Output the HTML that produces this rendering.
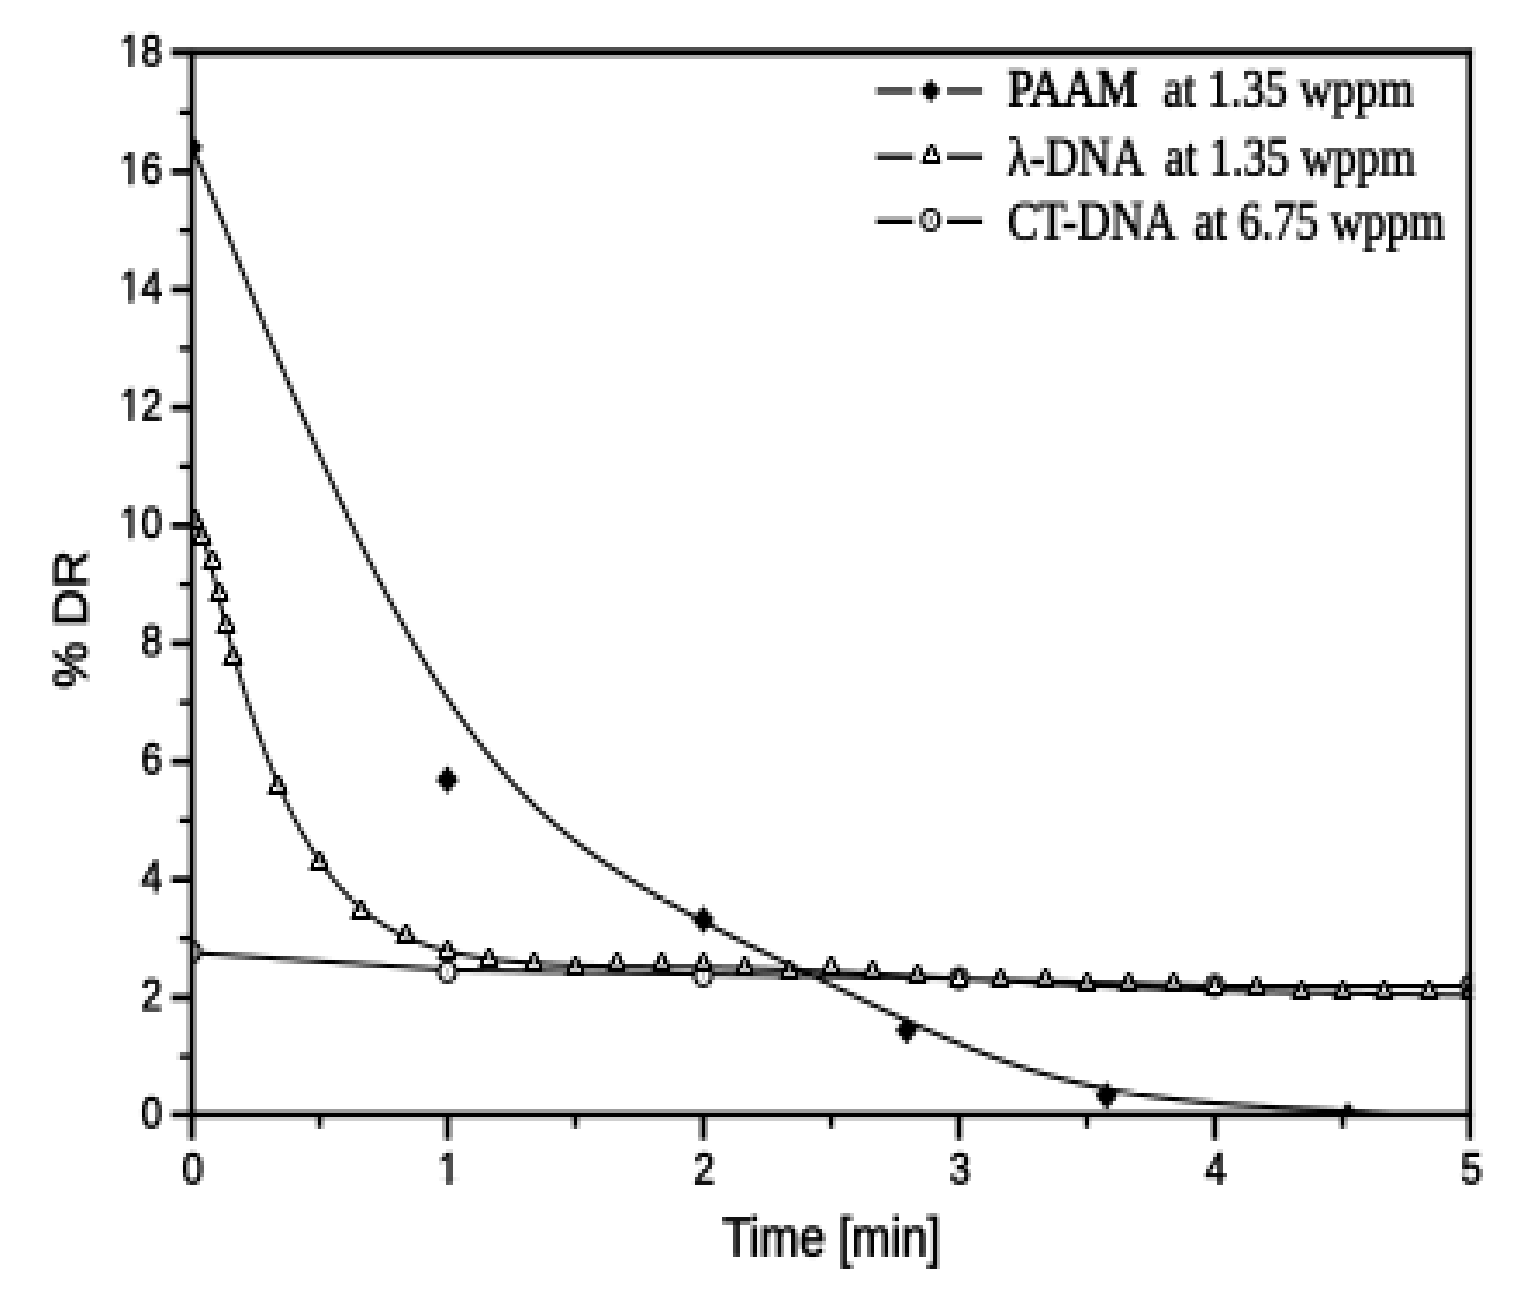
<!DOCTYPE html>
<html lang="en"><head><meta charset="utf-8"><title>% DR vs Time</title>
<style>html,body{margin:0;padding:0;background:#fff}body{width:1513px;height:1308px;overflow:hidden}svg{display:block}</style></head>
<body>
<svg width="1513" height="1308" viewBox="0 0 1513 1308">
<rect width="1513" height="1308" fill="#fff"/>
<defs><clipPath id="plot"><rect x="190" y="48" width="1283" height="1069"/></clipPath>
<mask id="mc3" maskUnits="userSpaceOnUse" x="0" y="0" width="1513" height="1308"><path shape-rendering="crispEdges" fill="#fff" d="M1,0h1v1308h-1zM8,0h1v1308h-1zM15,0h1v1308h-1zM22,0h1v1308h-1zM25,0h1v1308h-1zM32,0h1v1308h-1zM39,0h1v1308h-1zM46,0h1v1308h-1zM53,0h1v1308h-1zM60,0h1v1308h-1zM63,0h1v1308h-1zM70,0h1v1308h-1zM77,0h1v1308h-1zM84,0h1v1308h-1zM91,0h1v1308h-1zM98,0h1v1308h-1zM101,0h1v1308h-1zM108,0h1v1308h-1zM115,0h1v1308h-1zM122,0h1v1308h-1zM129,0h1v1308h-1zM136,0h1v1308h-1zM143,0h1v1308h-1zM146,0h1v1308h-1zM153,0h1v1308h-1zM160,0h1v1308h-1zM167,0h1v1308h-1zM174,0h1v1308h-1zM181,0h1v1308h-1zM184,0h1v1308h-1zM191,0h1v1308h-1zM198,0h1v1308h-1zM205,0h1v1308h-1zM212,0h1v1308h-1zM219,0h1v1308h-1zM222,0h1v1308h-1zM229,0h1v1308h-1zM236,0h1v1308h-1zM243,0h1v1308h-1zM250,0h1v1308h-1zM257,0h1v1308h-1zM260,0h1v1308h-1zM267,0h1v1308h-1zM274,0h1v1308h-1zM281,0h1v1308h-1zM288,0h1v1308h-1zM295,0h1v1308h-1zM302,0h1v1308h-1zM305,0h1v1308h-1zM312,0h1v1308h-1zM319,0h1v1308h-1zM326,0h1v1308h-1zM333,0h1v1308h-1zM340,0h1v1308h-1zM343,0h1v1308h-1zM350,0h1v1308h-1zM357,0h1v1308h-1zM364,0h1v1308h-1zM371,0h1v1308h-1zM378,0h1v1308h-1zM381,0h1v1308h-1zM388,0h1v1308h-1zM395,0h1v1308h-1zM402,0h1v1308h-1zM409,0h1v1308h-1zM416,0h1v1308h-1zM423,0h1v1308h-1zM426,0h1v1308h-1zM433,0h1v1308h-1zM440,0h1v1308h-1zM447,0h1v1308h-1zM454,0h1v1308h-1zM461,0h1v1308h-1zM464,0h1v1308h-1zM471,0h1v1308h-1zM478,0h1v1308h-1zM485,0h1v1308h-1zM492,0h1v1308h-1zM499,0h1v1308h-1zM502,0h1v1308h-1zM509,0h1v1308h-1zM516,0h1v1308h-1zM523,0h1v1308h-1zM530,0h1v1308h-1zM537,0h1v1308h-1zM540,0h1v1308h-1zM547,0h1v1308h-1zM554,0h1v1308h-1zM561,0h1v1308h-1zM568,0h1v1308h-1zM575,0h1v1308h-1zM582,0h1v1308h-1zM585,0h1v1308h-1zM592,0h1v1308h-1zM599,0h1v1308h-1zM606,0h1v1308h-1zM613,0h1v1308h-1zM620,0h1v1308h-1zM623,0h1v1308h-1zM630,0h1v1308h-1zM637,0h1v1308h-1zM644,0h1v1308h-1zM651,0h1v1308h-1zM658,0h1v1308h-1zM661,0h1v1308h-1zM668,0h1v1308h-1zM675,0h1v1308h-1zM682,0h1v1308h-1zM689,0h1v1308h-1zM696,0h1v1308h-1zM703,0h1v1308h-1zM706,0h1v1308h-1zM713,0h1v1308h-1zM720,0h1v1308h-1zM727,0h1v1308h-1zM734,0h1v1308h-1zM741,0h1v1308h-1zM744,0h1v1308h-1zM751,0h1v1308h-1zM758,0h1v1308h-1zM765,0h1v1308h-1zM772,0h1v1308h-1zM779,0h1v1308h-1zM782,0h1v1308h-1zM789,0h1v1308h-1zM796,0h1v1308h-1zM803,0h1v1308h-1zM810,0h1v1308h-1zM817,0h1v1308h-1zM820,0h1v1308h-1zM827,0h1v1308h-1zM834,0h1v1308h-1zM841,0h1v1308h-1zM848,0h1v1308h-1zM855,0h1v1308h-1zM862,0h1v1308h-1zM865,0h1v1308h-1zM872,0h1v1308h-1zM879,0h1v1308h-1zM886,0h1v1308h-1zM893,0h1v1308h-1zM900,0h1v1308h-1zM903,0h1v1308h-1zM910,0h1v1308h-1zM917,0h1v1308h-1zM924,0h1v1308h-1zM931,0h1v1308h-1zM938,0h1v1308h-1zM941,0h1v1308h-1zM948,0h1v1308h-1zM955,0h1v1308h-1zM962,0h1v1308h-1zM969,0h1v1308h-1zM976,0h1v1308h-1zM983,0h1v1308h-1zM986,0h1v1308h-1zM993,0h1v1308h-1zM1000,0h1v1308h-1zM1007,0h1v1308h-1zM1014,0h1v1308h-1zM1021,0h1v1308h-1zM1024,0h1v1308h-1zM1031,0h1v1308h-1zM1038,0h1v1308h-1zM1045,0h1v1308h-1zM1052,0h1v1308h-1zM1059,0h1v1308h-1zM1062,0h1v1308h-1zM1069,0h1v1308h-1zM1076,0h1v1308h-1zM1083,0h1v1308h-1zM1090,0h1v1308h-1zM1097,0h1v1308h-1zM1100,0h1v1308h-1zM1107,0h1v1308h-1zM1114,0h1v1308h-1zM1121,0h1v1308h-1zM1128,0h1v1308h-1zM1135,0h1v1308h-1zM1142,0h1v1308h-1zM1145,0h1v1308h-1zM1152,0h1v1308h-1zM1159,0h1v1308h-1zM1166,0h1v1308h-1zM1173,0h1v1308h-1zM1180,0h1v1308h-1zM1183,0h1v1308h-1zM1190,0h1v1308h-1zM1197,0h1v1308h-1zM1204,0h1v1308h-1zM1211,0h1v1308h-1zM1218,0h1v1308h-1zM1221,0h1v1308h-1zM1228,0h1v1308h-1zM1235,0h1v1308h-1zM1242,0h1v1308h-1zM1249,0h1v1308h-1zM1256,0h1v1308h-1zM1263,0h1v1308h-1zM1266,0h1v1308h-1zM1273,0h1v1308h-1zM1280,0h1v1308h-1zM1287,0h1v1308h-1zM1294,0h1v1308h-1zM1301,0h1v1308h-1zM1304,0h1v1308h-1zM1311,0h1v1308h-1zM1318,0h1v1308h-1zM1325,0h1v1308h-1zM1332,0h1v1308h-1zM1339,0h1v1308h-1zM1342,0h1v1308h-1zM1349,0h1v1308h-1zM1356,0h1v1308h-1zM1363,0h1v1308h-1zM1370,0h1v1308h-1zM1377,0h1v1308h-1zM1380,0h1v1308h-1zM1387,0h1v1308h-1zM1394,0h1v1308h-1zM1401,0h1v1308h-1zM1408,0h1v1308h-1zM1415,0h1v1308h-1zM1422,0h1v1308h-1zM1425,0h1v1308h-1zM1432,0h1v1308h-1zM1439,0h1v1308h-1zM1446,0h1v1308h-1zM1453,0h1v1308h-1zM1460,0h1v1308h-1zM1463,0h1v1308h-1zM1470,0h1v1308h-1zM1477,0h1v1308h-1zM1484,0h1v1308h-1zM1491,0h1v1308h-1zM1498,0h1v1308h-1zM1501,0h1v1308h-1zM1508,0h1v1308h-1z"/></mask>
<mask id="mc4" maskUnits="userSpaceOnUse" x="0" y="0" width="1513" height="1308"><path shape-rendering="crispEdges" fill="#fff" d="M4,0h1v1308h-1zM11,0h1v1308h-1zM18,0h1v1308h-1zM28,0h1v1308h-1zM35,0h1v1308h-1zM42,0h1v1308h-1zM49,0h1v1308h-1zM56,0h1v1308h-1zM66,0h1v1308h-1zM73,0h1v1308h-1zM80,0h1v1308h-1zM87,0h1v1308h-1zM94,0h1v1308h-1zM104,0h1v1308h-1zM111,0h1v1308h-1zM118,0h1v1308h-1zM125,0h1v1308h-1zM132,0h1v1308h-1zM139,0h1v1308h-1zM149,0h1v1308h-1zM156,0h1v1308h-1zM163,0h1v1308h-1zM170,0h1v1308h-1zM177,0h1v1308h-1zM187,0h1v1308h-1zM194,0h1v1308h-1zM201,0h1v1308h-1zM208,0h1v1308h-1zM215,0h1v1308h-1zM225,0h1v1308h-1zM232,0h1v1308h-1zM239,0h1v1308h-1zM246,0h1v1308h-1zM253,0h1v1308h-1zM263,0h1v1308h-1zM270,0h1v1308h-1zM277,0h1v1308h-1zM284,0h1v1308h-1zM291,0h1v1308h-1zM298,0h1v1308h-1zM308,0h1v1308h-1zM315,0h1v1308h-1zM322,0h1v1308h-1zM329,0h1v1308h-1zM336,0h1v1308h-1zM346,0h1v1308h-1zM353,0h1v1308h-1zM360,0h1v1308h-1zM367,0h1v1308h-1zM374,0h1v1308h-1zM384,0h1v1308h-1zM391,0h1v1308h-1zM398,0h1v1308h-1zM405,0h1v1308h-1zM412,0h1v1308h-1zM419,0h1v1308h-1zM429,0h1v1308h-1zM436,0h1v1308h-1zM443,0h1v1308h-1zM450,0h1v1308h-1zM457,0h1v1308h-1zM467,0h1v1308h-1zM474,0h1v1308h-1zM481,0h1v1308h-1zM488,0h1v1308h-1zM495,0h1v1308h-1zM505,0h1v1308h-1zM512,0h1v1308h-1zM519,0h1v1308h-1zM526,0h1v1308h-1zM533,0h1v1308h-1zM543,0h1v1308h-1zM550,0h1v1308h-1zM557,0h1v1308h-1zM564,0h1v1308h-1zM571,0h1v1308h-1zM578,0h1v1308h-1zM588,0h1v1308h-1zM595,0h1v1308h-1zM602,0h1v1308h-1zM609,0h1v1308h-1zM616,0h1v1308h-1zM626,0h1v1308h-1zM633,0h1v1308h-1zM640,0h1v1308h-1zM647,0h1v1308h-1zM654,0h1v1308h-1zM664,0h1v1308h-1zM671,0h1v1308h-1zM678,0h1v1308h-1zM685,0h1v1308h-1zM692,0h1v1308h-1zM699,0h1v1308h-1zM709,0h1v1308h-1zM716,0h1v1308h-1zM723,0h1v1308h-1zM730,0h1v1308h-1zM737,0h1v1308h-1zM747,0h1v1308h-1zM754,0h1v1308h-1zM761,0h1v1308h-1zM768,0h1v1308h-1zM775,0h1v1308h-1zM785,0h1v1308h-1zM792,0h1v1308h-1zM799,0h1v1308h-1zM806,0h1v1308h-1zM813,0h1v1308h-1zM823,0h1v1308h-1zM830,0h1v1308h-1zM837,0h1v1308h-1zM844,0h1v1308h-1zM851,0h1v1308h-1zM858,0h1v1308h-1zM868,0h1v1308h-1zM875,0h1v1308h-1zM882,0h1v1308h-1zM889,0h1v1308h-1zM896,0h1v1308h-1zM906,0h1v1308h-1zM913,0h1v1308h-1zM920,0h1v1308h-1zM927,0h1v1308h-1zM934,0h1v1308h-1zM944,0h1v1308h-1zM951,0h1v1308h-1zM958,0h1v1308h-1zM965,0h1v1308h-1zM972,0h1v1308h-1zM979,0h1v1308h-1zM989,0h1v1308h-1zM996,0h1v1308h-1zM1003,0h1v1308h-1zM1010,0h1v1308h-1zM1017,0h1v1308h-1zM1027,0h1v1308h-1zM1034,0h1v1308h-1zM1041,0h1v1308h-1zM1048,0h1v1308h-1zM1055,0h1v1308h-1zM1065,0h1v1308h-1zM1072,0h1v1308h-1zM1079,0h1v1308h-1zM1086,0h1v1308h-1zM1093,0h1v1308h-1zM1103,0h1v1308h-1zM1110,0h1v1308h-1zM1117,0h1v1308h-1zM1124,0h1v1308h-1zM1131,0h1v1308h-1zM1138,0h1v1308h-1zM1148,0h1v1308h-1zM1155,0h1v1308h-1zM1162,0h1v1308h-1zM1169,0h1v1308h-1zM1176,0h1v1308h-1zM1186,0h1v1308h-1zM1193,0h1v1308h-1zM1200,0h1v1308h-1zM1207,0h1v1308h-1zM1214,0h1v1308h-1zM1224,0h1v1308h-1zM1231,0h1v1308h-1zM1238,0h1v1308h-1zM1245,0h1v1308h-1zM1252,0h1v1308h-1zM1259,0h1v1308h-1zM1269,0h1v1308h-1zM1276,0h1v1308h-1zM1283,0h1v1308h-1zM1290,0h1v1308h-1zM1297,0h1v1308h-1zM1307,0h1v1308h-1zM1314,0h1v1308h-1zM1321,0h1v1308h-1zM1328,0h1v1308h-1zM1335,0h1v1308h-1zM1345,0h1v1308h-1zM1352,0h1v1308h-1zM1359,0h1v1308h-1zM1366,0h1v1308h-1zM1373,0h1v1308h-1zM1383,0h1v1308h-1zM1390,0h1v1308h-1zM1397,0h1v1308h-1zM1404,0h1v1308h-1zM1411,0h1v1308h-1zM1418,0h1v1308h-1zM1428,0h1v1308h-1zM1435,0h1v1308h-1zM1442,0h1v1308h-1zM1449,0h1v1308h-1zM1456,0h1v1308h-1zM1466,0h1v1308h-1zM1473,0h1v1308h-1zM1480,0h1v1308h-1zM1487,0h1v1308h-1zM1494,0h1v1308h-1zM1504,0h1v1308h-1zM1511,0h1v1308h-1z"/></mask>
<mask id="mr" maskUnits="userSpaceOnUse" x="0" y="0" width="1513" height="1308"><path shape-rendering="crispEdges" fill="#fff" d="M0,0h1513v1h-1513zM0,4h1513v1h-1513zM0,8h1513v1h-1513zM0,12h1513v1h-1513zM0,16h1513v1h-1513zM0,20h1513v1h-1513zM0,24h1513v1h-1513zM0,28h1513v1h-1513zM0,32h1513v1h-1513zM0,36h1513v1h-1513zM0,40h1513v1h-1513zM0,44h1513v1h-1513zM0,48h1513v1h-1513zM0,52h1513v1h-1513zM0,56h1513v1h-1513zM0,60h1513v1h-1513zM0,64h1513v1h-1513zM0,68h1513v1h-1513zM0,72h1513v1h-1513zM0,76h1513v1h-1513zM0,80h1513v1h-1513zM0,84h1513v1h-1513zM0,88h1513v1h-1513zM0,92h1513v1h-1513zM0,96h1513v1h-1513zM0,100h1513v1h-1513zM0,104h1513v1h-1513zM0,108h1513v1h-1513zM0,112h1513v1h-1513zM0,116h1513v1h-1513zM0,120h1513v1h-1513zM0,124h1513v1h-1513zM0,128h1513v1h-1513zM0,132h1513v1h-1513zM0,137h1513v1h-1513zM0,141h1513v1h-1513zM0,145h1513v1h-1513zM0,149h1513v1h-1513zM0,153h1513v1h-1513zM0,157h1513v1h-1513zM0,161h1513v1h-1513zM0,165h1513v1h-1513zM0,169h1513v1h-1513zM0,173h1513v1h-1513zM0,177h1513v1h-1513zM0,181h1513v1h-1513zM0,185h1513v1h-1513zM0,189h1513v1h-1513zM0,193h1513v1h-1513zM0,197h1513v1h-1513zM0,201h1513v1h-1513zM0,205h1513v1h-1513zM0,209h1513v1h-1513zM0,213h1513v1h-1513zM0,217h1513v1h-1513zM0,221h1513v1h-1513zM0,225h1513v1h-1513zM0,229h1513v1h-1513zM0,233h1513v1h-1513zM0,237h1513v1h-1513zM0,241h1513v1h-1513zM0,245h1513v1h-1513zM0,249h1513v1h-1513zM0,253h1513v1h-1513zM0,257h1513v1h-1513zM0,261h1513v1h-1513zM0,265h1513v1h-1513zM0,269h1513v1h-1513zM0,273h1513v1h-1513zM0,277h1513v1h-1513zM0,281h1513v1h-1513zM0,285h1513v1h-1513zM0,289h1513v1h-1513zM0,293h1513v1h-1513zM0,297h1513v1h-1513zM0,301h1513v1h-1513zM0,305h1513v1h-1513zM0,309h1513v1h-1513zM0,313h1513v1h-1513zM0,317h1513v1h-1513zM0,321h1513v1h-1513zM0,325h1513v1h-1513zM0,330h1513v1h-1513zM0,334h1513v1h-1513zM0,338h1513v1h-1513zM0,342h1513v1h-1513zM0,346h1513v1h-1513zM0,350h1513v1h-1513zM0,354h1513v1h-1513zM0,358h1513v1h-1513zM0,362h1513v1h-1513zM0,366h1513v1h-1513zM0,370h1513v1h-1513zM0,374h1513v1h-1513zM0,378h1513v1h-1513zM0,382h1513v1h-1513zM0,386h1513v1h-1513zM0,390h1513v1h-1513zM0,394h1513v1h-1513zM0,398h1513v1h-1513zM0,402h1513v1h-1513zM0,406h1513v1h-1513zM0,410h1513v1h-1513zM0,414h1513v1h-1513zM0,418h1513v1h-1513zM0,422h1513v1h-1513zM0,426h1513v1h-1513zM0,430h1513v1h-1513zM0,434h1513v1h-1513zM0,438h1513v1h-1513zM0,442h1513v1h-1513zM0,446h1513v1h-1513zM0,450h1513v1h-1513zM0,454h1513v1h-1513zM0,458h1513v1h-1513zM0,462h1513v1h-1513zM0,466h1513v1h-1513zM0,470h1513v1h-1513zM0,474h1513v1h-1513zM0,478h1513v1h-1513zM0,482h1513v1h-1513zM0,486h1513v1h-1513zM0,490h1513v1h-1513zM0,494h1513v1h-1513zM0,498h1513v1h-1513zM0,502h1513v1h-1513zM0,506h1513v1h-1513zM0,510h1513v1h-1513zM0,514h1513v1h-1513zM0,519h1513v1h-1513zM0,523h1513v1h-1513zM0,527h1513v1h-1513zM0,531h1513v1h-1513zM0,535h1513v1h-1513zM0,539h1513v1h-1513zM0,543h1513v1h-1513zM0,547h1513v1h-1513zM0,551h1513v1h-1513zM0,555h1513v1h-1513zM0,559h1513v1h-1513zM0,563h1513v1h-1513zM0,567h1513v1h-1513zM0,571h1513v1h-1513zM0,575h1513v1h-1513zM0,579h1513v1h-1513zM0,583h1513v1h-1513zM0,587h1513v1h-1513zM0,591h1513v1h-1513zM0,595h1513v1h-1513zM0,599h1513v1h-1513zM0,603h1513v1h-1513zM0,607h1513v1h-1513zM0,611h1513v1h-1513zM0,615h1513v1h-1513zM0,619h1513v1h-1513zM0,623h1513v1h-1513zM0,627h1513v1h-1513zM0,631h1513v1h-1513zM0,635h1513v1h-1513zM0,639h1513v1h-1513zM0,643h1513v1h-1513zM0,647h1513v1h-1513zM0,651h1513v1h-1513zM0,655h1513v1h-1513zM0,659h1513v1h-1513zM0,663h1513v1h-1513zM0,667h1513v1h-1513zM0,671h1513v1h-1513zM0,675h1513v1h-1513zM0,679h1513v1h-1513zM0,683h1513v1h-1513zM0,687h1513v1h-1513zM0,691h1513v1h-1513zM0,695h1513v1h-1513zM0,699h1513v1h-1513zM0,703h1513v1h-1513zM0,707h1513v1h-1513zM0,712h1513v1h-1513zM0,716h1513v1h-1513zM0,720h1513v1h-1513zM0,724h1513v1h-1513zM0,728h1513v1h-1513zM0,732h1513v1h-1513zM0,736h1513v1h-1513zM0,740h1513v1h-1513zM0,744h1513v1h-1513zM0,748h1513v1h-1513zM0,752h1513v1h-1513zM0,756h1513v1h-1513zM0,760h1513v1h-1513zM0,764h1513v1h-1513zM0,768h1513v1h-1513zM0,772h1513v1h-1513zM0,776h1513v1h-1513zM0,780h1513v1h-1513zM0,784h1513v1h-1513zM0,788h1513v1h-1513zM0,792h1513v1h-1513zM0,796h1513v1h-1513zM0,800h1513v1h-1513zM0,804h1513v1h-1513zM0,808h1513v1h-1513zM0,812h1513v1h-1513zM0,816h1513v1h-1513zM0,820h1513v1h-1513zM0,824h1513v1h-1513zM0,828h1513v1h-1513zM0,832h1513v1h-1513zM0,836h1513v1h-1513zM0,840h1513v1h-1513zM0,844h1513v1h-1513zM0,848h1513v1h-1513zM0,852h1513v1h-1513zM0,856h1513v1h-1513zM0,860h1513v1h-1513zM0,864h1513v1h-1513zM0,868h1513v1h-1513zM0,872h1513v1h-1513zM0,876h1513v1h-1513zM0,880h1513v1h-1513zM0,884h1513v1h-1513zM0,888h1513v1h-1513zM0,892h1513v1h-1513zM0,896h1513v1h-1513zM0,901h1513v1h-1513zM0,905h1513v1h-1513zM0,909h1513v1h-1513zM0,913h1513v1h-1513zM0,917h1513v1h-1513zM0,921h1513v1h-1513zM0,925h1513v1h-1513zM0,929h1513v1h-1513zM0,933h1513v1h-1513zM0,937h1513v1h-1513zM0,941h1513v1h-1513zM0,945h1513v1h-1513zM0,949h1513v1h-1513zM0,953h1513v1h-1513zM0,957h1513v1h-1513zM0,961h1513v1h-1513zM0,965h1513v1h-1513zM0,969h1513v1h-1513zM0,973h1513v1h-1513zM0,977h1513v1h-1513zM0,981h1513v1h-1513zM0,985h1513v1h-1513zM0,989h1513v1h-1513zM0,993h1513v1h-1513zM0,997h1513v1h-1513zM0,1001h1513v1h-1513zM0,1005h1513v1h-1513zM0,1009h1513v1h-1513zM0,1013h1513v1h-1513zM0,1017h1513v1h-1513zM0,1021h1513v1h-1513zM0,1025h1513v1h-1513zM0,1029h1513v1h-1513zM0,1033h1513v1h-1513zM0,1037h1513v1h-1513zM0,1041h1513v1h-1513zM0,1045h1513v1h-1513zM0,1049h1513v1h-1513zM0,1053h1513v1h-1513zM0,1057h1513v1h-1513zM0,1061h1513v1h-1513zM0,1065h1513v1h-1513zM0,1069h1513v1h-1513zM0,1073h1513v1h-1513zM0,1077h1513v1h-1513zM0,1081h1513v1h-1513zM0,1085h1513v1h-1513zM0,1089h1513v1h-1513zM0,1094h1513v1h-1513zM0,1098h1513v1h-1513zM0,1102h1513v1h-1513zM0,1106h1513v1h-1513zM0,1110h1513v1h-1513zM0,1114h1513v1h-1513zM0,1118h1513v1h-1513zM0,1122h1513v1h-1513zM0,1126h1513v1h-1513zM0,1130h1513v1h-1513zM0,1134h1513v1h-1513zM0,1138h1513v1h-1513zM0,1142h1513v1h-1513zM0,1146h1513v1h-1513zM0,1150h1513v1h-1513zM0,1154h1513v1h-1513zM0,1158h1513v1h-1513zM0,1162h1513v1h-1513zM0,1166h1513v1h-1513zM0,1170h1513v1h-1513zM0,1174h1513v1h-1513zM0,1178h1513v1h-1513zM0,1182h1513v1h-1513zM0,1186h1513v1h-1513zM0,1190h1513v1h-1513zM0,1194h1513v1h-1513zM0,1198h1513v1h-1513zM0,1202h1513v1h-1513zM0,1206h1513v1h-1513zM0,1210h1513v1h-1513zM0,1214h1513v1h-1513zM0,1218h1513v1h-1513zM0,1222h1513v1h-1513zM0,1226h1513v1h-1513zM0,1230h1513v1h-1513zM0,1234h1513v1h-1513zM0,1238h1513v1h-1513zM0,1242h1513v1h-1513zM0,1246h1513v1h-1513zM0,1250h1513v1h-1513zM0,1254h1513v1h-1513zM0,1258h1513v1h-1513zM0,1262h1513v1h-1513zM0,1266h1513v1h-1513zM0,1270h1513v1h-1513zM0,1274h1513v1h-1513zM0,1278h1513v1h-1513zM0,1282h1513v1h-1513zM0,1287h1513v1h-1513zM0,1291h1513v1h-1513zM0,1295h1513v1h-1513zM0,1299h1513v1h-1513zM0,1303h1513v1h-1513zM0,1307h1513v1h-1513z"/></mask>
<filter id="avg3" filterUnits="userSpaceOnUse" x="0" y="0" width="1513" height="1308" color-interpolation-filters="sRGB"><feConvolveMatrix order="3 4" kernelMatrix="1 1 1 1 1 1 1 1 1 1 1 1" divisor="12" targetX="1" targetY="1" edgeMode="duplicate" preserveAlpha="true"/></filter>
<filter id="avg4" filterUnits="userSpaceOnUse" x="0" y="0" width="1513" height="1308" color-interpolation-filters="sRGB"><feConvolveMatrix order="4 4" kernelMatrix="1 1 1 1 1 1 1 1 1 1 1 1 1 1 1 1" divisor="16" targetX="1" targetY="1" edgeMode="duplicate" preserveAlpha="true"/></filter>
<filter id="grow" filterUnits="userSpaceOnUse" x="0" y="0" width="1513" height="1308" color-interpolation-filters="sRGB"><feMorphology operator="dilate" radius="1" result="a"/><feOffset in="a" dx="1" dy="0" result="b"/><feMerge result="c"><feMergeNode in="b"/><feMergeNode in="a"/></feMerge><feOffset in="c" dx="0" dy="1" result="d"/><feOffset in="c" dx="0" dy="2" result="e"/><feMerge><feMergeNode in="e"/><feMergeNode in="d"/><feMergeNode in="c"/></feMerge></filter>
</defs>
<g filter="url(#grow)"><g mask="url(#mr)"><g mask="url(#mc4)"><g filter="url(#avg4)"><use href="#fig"/></g></g><g mask="url(#mc3)"><g filter="url(#avg3)">
<g id="fig">
<rect width="1513" height="1308" fill="#fff"/>
<g clip-path="url(#plot)"><g fill="none" stroke="#000" stroke-linejoin="round" transform="matrix(3.4568 0 0 4.021 -0.22 2.82)">
<path d="M55.61,35.33 L56.48,37.22 L57.35,39.12 L58.22,41.01 L59.10,42.90 L59.97,44.79 L60.84,46.68 L61.71,48.57 L62.58,50.46 L63.46,52.34 L64.33,54.22 L65.20,56.10 L66.07,57.97 L66.95,59.85 L67.82,61.71 L68.69,63.58 L69.56,65.44 L70.43,67.30 L71.31,69.15 L72.18,71.00 L73.05,72.85 L73.92,74.69 L74.79,76.52 L75.67,78.35 L76.54,80.18 L77.41,82.00 L78.28,83.81 L79.16,85.62 L80.03,87.42 L80.90,89.21 L81.77,91.00 L82.64,92.78 L83.52,94.56 L84.39,96.32 L85.26,98.08 L86.13,99.84 L87.01,101.58 L87.88,103.32 L88.75,105.04 L89.62,106.76 L90.49,108.47 L91.37,110.17 L92.24,111.87 L93.11,113.55 L93.98,115.22 L94.86,116.88 L95.73,118.54 L96.60,120.18 L97.47,121.81 L98.34,123.44 L99.22,125.05 L100.09,126.65 L100.96,128.24 L101.83,129.81 L102.71,131.38 L103.58,132.93 L104.45,134.47 L105.32,136.00 L106.19,137.52 L107.07,139.02 L107.94,140.52 L108.81,141.99 L109.68,143.46 L110.56,144.91 L111.43,146.35 L112.30,147.77 L113.17,149.18 L114.04,150.57 L114.92,151.96 L115.79,153.32 L116.66,154.67 L117.53,156.01 L118.41,157.33 L119.28,158.64 L120.15,159.94 L121.02,161.22 L121.89,162.48 L122.77,163.74 L123.64,164.97 L124.51,166.20 L125.38,167.41 L126.25,168.60 L127.13,169.78 L128.00,170.94 L128.87,172.09 L129.74,173.23 L130.62,174.35 L131.49,175.46 L132.36,176.55 L133.23,177.63 L134.10,178.69 L134.98,179.74 L135.85,180.78 L136.72,181.80 L137.59,182.80 L138.47,183.80 L139.34,184.77 L140.21,185.73 L141.08,186.68 L141.95,187.61 L142.83,188.53 L143.70,189.43 L144.57,190.32 L145.44,191.20 L146.32,192.06 L147.19,192.90 L148.06,193.73 L148.93,194.55 L149.80,195.36 L150.68,196.15 L151.55,196.93 L152.42,197.69 L153.29,198.45 L154.17,199.19 L155.04,199.92 L155.91,200.64 L156.78,201.34 L157.65,202.04 L158.53,202.72 L159.40,203.39 L160.27,204.06 L161.14,204.71 L162.02,205.35 L162.89,205.98 L163.76,206.61 L164.63,207.22 L165.50,207.83 L166.38,208.42 L167.25,209.01 L168.12,209.59 L168.99,210.16 L169.87,210.72 L170.74,211.27 L171.61,211.82 L172.48,212.36 L173.35,212.89 L174.23,213.42 L175.10,213.94 L175.97,214.45 L176.84,214.96 L177.72,215.46 L178.59,215.96 L179.46,216.45 L180.33,216.93 L181.20,217.41 L182.08,217.89 L182.95,218.36 L183.82,218.83 L184.69,219.29 L185.56,219.75 L186.44,220.21 L187.31,220.66 L188.18,221.11 L189.05,221.55 L189.93,222.00 L190.80,222.44 L191.67,222.87 L192.54,223.30 L193.41,223.73 L194.29,224.16 L195.16,224.58 L196.03,225.01 L196.90,225.42 L197.78,225.84 L198.65,226.25 L199.52,226.66 L200.39,227.07 L201.26,227.47 L202.14,227.88 L203.01,228.28 L203.88,228.68 L204.75,229.07 L205.63,229.46 L206.50,229.86 L207.37,230.25 L208.24,230.63 L209.11,231.02 L209.99,231.40 L210.86,231.79 L211.73,232.17 L212.60,232.55 L213.48,232.92 L214.35,233.30 L215.22,233.67 L216.09,234.05 L216.96,234.42 L217.84,234.79 L218.71,235.16 L219.58,235.53 L220.45,235.90 L221.33,236.26 L222.20,236.63 L223.07,236.99 L223.94,237.36 L224.81,237.72 L225.69,238.08 L226.56,238.45 L227.43,238.81 L228.30,239.17 L229.18,239.53 L230.05,239.89 L230.92,240.25 L231.79,240.61 L232.66,240.97 L233.54,241.33 L234.41,241.69 L235.28,242.05 L236.15,242.41 L237.02,242.77 L237.90,243.14 L238.77,243.50 L239.64,243.86 L240.51,244.22 L241.39,244.58 L242.26,244.94 L243.13,245.31 L244.00,245.67 L244.87,246.03 L245.75,246.39 L246.62,246.75 L247.49,247.11 L248.36,247.47 L249.24,247.83 L250.11,248.19 L250.98,248.55 L251.85,248.91 L252.72,249.27 L253.60,249.62 L254.47,249.98 L255.34,250.33 L256.21,250.69 L257.09,251.04 L257.96,251.39 L258.83,251.74 L259.70,252.09 L260.57,252.44 L261.45,252.78 L262.32,253.13 L263.19,253.47 L264.06,253.82 L264.94,254.16 L265.81,254.50 L266.68,254.83 L267.55,255.17 L268.42,255.50 L269.30,255.84 L270.17,256.17 L271.04,256.49 L271.91,256.82 L272.79,257.14 L273.66,257.47 L274.53,257.79 L275.40,258.10 L276.27,258.42 L277.15,258.73 L278.02,259.04 L278.89,259.35 L279.76,259.65 L280.64,259.96 L281.51,260.26 L282.38,260.55 L283.25,260.85 L284.12,261.14 L285.00,261.43 L285.87,261.71 L286.74,262.00 L287.61,262.28 L288.49,262.55 L289.36,262.82 L290.23,263.09 L291.10,263.36 L291.97,263.62 L292.85,263.88 L293.72,264.14 L294.59,264.39 L295.46,264.64 L296.33,264.88 L297.21,265.13 L298.08,265.36 L298.95,265.60 L299.82,265.83 L300.70,266.05 L301.57,266.27 L302.44,266.49 L303.31,266.70 L304.18,266.91 L305.06,267.12 L305.93,267.32 L306.80,267.52 L307.67,267.71 L308.55,267.90 L309.42,268.09 L310.29,268.27 L311.16,268.45 L312.03,268.63 L312.91,268.80 L313.78,268.97 L314.65,269.13 L315.52,269.30 L316.40,269.46 L317.27,269.61 L318.14,269.76 L319.01,269.91 L319.88,270.06 L320.76,270.20 L321.63,270.34 L322.50,270.48 L323.37,270.61 L324.25,270.75 L325.12,270.87 L325.99,271.00 L326.86,271.12 L327.73,271.24 L328.61,271.36 L329.48,271.48 L330.35,271.59 L331.22,271.70 L332.10,271.81 L332.97,271.91 L333.84,272.01 L334.71,272.11 L335.58,272.21 L336.46,272.31 L337.33,272.40 L338.20,272.49 L339.07,272.58 L339.95,272.67 L340.82,272.75 L341.69,272.84 L342.56,272.92 L343.43,273.00 L344.31,273.07 L345.18,273.15 L346.05,273.22 L346.92,273.29 L347.79,273.36 L348.67,273.43 L349.54,273.50 L350.41,273.56 L351.28,273.63 L352.16,273.69 L353.03,273.75 L353.90,273.81 L354.77,273.87 L355.64,273.93 L356.52,273.98 L357.39,274.04 L358.26,274.09 L359.13,274.14 L360.01,274.20 L360.88,274.25 L361.75,274.30 L362.62,274.34 L363.49,274.39 L364.37,274.44 L365.24,274.48 L366.11,274.53 L366.98,274.57 L367.86,274.62 L368.73,274.66 L369.60,274.71 L370.47,274.75 L371.34,274.79 L372.22,274.83 L373.09,274.87 L373.96,274.91 L374.83,274.95 L375.71,274.99 L376.58,275.03 L377.45,275.07 L378.32,275.11 L379.19,275.15 L380.07,275.19 L380.94,275.23 L381.81,275.27 L382.68,275.31 L383.56,275.35 L384.43,275.39 L385.30,275.43 L386.17,275.48 L387.04,275.52 L387.92,275.56 L388.79,275.60 L389.66,275.64 L390.53,275.69 L391.41,275.73 L392.28,275.77 L393.15,275.82 L394.02,275.86 L394.89,275.91 L395.77,275.96 L396.64,276.01 L397.51,276.06 L398.38,276.11 L399.26,276.16 L400.13,276.21 L401.00,276.26 L401.87,276.32 L402.74,276.37 L403.62,276.43" stroke-width="1.1"/>
<path d="M55.61,236.25 L57.46,236.36 L59.32,236.47 L61.18,236.57 L63.04,236.68 L64.90,236.79 L66.75,236.89 L68.61,237.00 L70.47,237.11 L72.33,237.21 L74.18,237.32 L76.04,237.42 L77.90,237.53 L79.76,237.64 L81.62,237.74 L83.47,237.85 L85.33,237.96 L87.19,238.06 L89.05,238.17 L90.90,238.27 L92.76,238.38 L94.62,238.49 L96.48,238.59 L98.34,238.70 L100.19,238.81 L102.05,238.91 L103.91,239.02 L105.77,239.13 L107.63,239.23 L109.48,239.34 L111.34,239.44 L113.20,239.55 L115.06,239.66 L116.91,239.76 L118.77,239.87 L120.63,239.98 L122.49,240.08 L124.35,240.19 L126.20,240.29 L128.06,240.40 L129.92,240.49 L131.78,240.52 L133.63,240.55 L135.49,240.57 L137.35,240.60 L139.21,240.63 L141.07,240.66 L142.92,240.69 L144.78,240.71 L146.64,240.74 L148.50,240.77 L150.36,240.80 L152.21,240.83 L154.07,240.85 L155.93,240.88 L157.79,240.91 L159.64,240.94 L161.50,240.97 L163.36,240.99 L165.22,241.02 L167.08,241.05 L168.93,241.08 L170.79,241.11 L172.65,241.14 L174.51,241.16 L176.36,241.19 L178.22,241.22 L180.08,241.25 L181.94,241.28 L183.80,241.30 L185.65,241.33 L187.51,241.36 L189.37,241.39 L191.23,241.42 L193.08,241.44 L194.94,241.47 L196.80,241.50 L198.66,241.53 L200.52,241.56 L202.37,241.58 L204.23,241.61 L206.09,241.64 L207.95,241.67 L209.81,241.69 L211.66,241.72 L213.52,241.75 L215.38,241.77 L217.24,241.80 L219.09,241.83 L220.95,241.85 L222.81,241.88 L224.67,241.91 L226.53,241.93 L228.38,241.96 L230.24,241.99 L232.10,242.01 L233.96,242.04 L235.81,242.07 L237.67,242.10 L239.53,242.12 L241.39,242.15 L243.25,242.18 L245.10,242.20 L246.96,242.23 L248.82,242.26 L250.68,242.28 L252.54,242.31 L254.39,242.34 L256.25,242.36 L258.11,242.39 L259.97,242.42 L261.82,242.44 L263.68,242.47 L265.54,242.50 L267.40,242.52 L269.26,242.55 L271.11,242.58 L272.97,242.60 L274.83,242.63 L276.69,242.66 L278.54,242.70 L280.40,242.74 L282.26,242.79 L284.12,242.83 L285.98,242.88 L287.83,242.93 L289.69,242.97 L291.55,243.02 L293.41,243.07 L295.27,243.11 L297.12,243.16 L298.98,243.20 L300.84,243.25 L302.70,243.30 L304.55,243.34 L306.41,243.39 L308.27,243.44 L310.13,243.48 L311.99,243.53 L313.84,243.57 L315.70,243.62 L317.56,243.67 L319.42,243.71 L321.27,243.76 L323.13,243.81 L324.99,243.85 L326.85,243.90 L328.71,243.94 L330.56,243.99 L332.42,244.04 L334.28,244.08 L336.14,244.13 L337.99,244.18 L339.85,244.22 L341.71,244.27 L343.57,244.31 L345.43,244.36 L347.28,244.41 L349.14,244.45 L351.00,244.50 L352.86,244.51 L354.72,244.51 L356.57,244.51 L358.43,244.52 L360.29,244.52 L362.15,244.52 L364.00,244.52 L365.86,244.52 L367.72,244.52 L369.58,244.52 L371.44,244.52 L373.29,244.53 L375.15,244.53 L377.01,244.53 L378.87,244.53 L380.72,244.53 L382.58,244.53 L384.44,244.53 L386.30,244.53 L388.16,244.54 L390.01,244.54 L391.87,244.54 L393.73,244.54 L395.59,244.54 L397.45,244.54 L399.30,244.54 L401.16,244.54 L403.02,244.55 L404.88,244.55 L406.73,244.55 L408.59,244.55 L410.45,244.55 L412.31,244.55 L414.17,244.55 L416.02,244.55 L417.88,244.56 L419.74,244.56 L421.60,244.56 L423.45,244.56 L425.31,244.56" stroke-width="1.05"/>
<path d="M55.61,128.00 L56.14,128.36 L56.66,128.94 L57.19,129.72 L57.72,130.69 L58.25,131.82 L58.78,133.11 L59.31,134.52 L59.84,136.06 L60.37,137.69 L60.90,139.40 L61.42,141.18 L61.95,143.00 L62.48,144.86 L63.01,146.72 L63.54,148.58 L64.07,150.41 L64.60,152.22 L65.13,154.00 L65.66,155.74 L66.18,157.46 L66.71,159.15 L67.24,160.81 L67.77,162.44 L68.30,164.05 L68.83,165.63 L69.36,167.18 L69.89,168.70 L70.42,170.20 L70.94,171.67 L71.47,173.12 L72.00,174.55 L72.53,175.94 L73.06,177.32 L73.59,178.67 L74.12,180.00 L74.65,181.30 L75.18,182.58 L75.70,183.84 L76.23,185.07 L76.76,186.29 L77.29,187.48 L77.82,188.64 L78.35,189.79 L78.88,190.92 L79.41,192.02 L79.94,193.11 L80.46,194.17 L80.99,195.21 L81.52,196.24 L82.05,197.24 L82.58,198.22 L83.11,199.19 L83.64,200.13 L84.17,201.06 L84.70,201.97 L85.23,202.86 L85.75,203.73 L86.28,204.59 L86.81,205.42 L87.34,206.24 L87.87,207.05 L88.40,207.83 L88.93,208.60 L89.46,209.36 L89.99,210.10 L90.51,210.82 L91.04,211.53 L91.57,212.22 L92.10,212.90 L92.63,213.56 L93.16,214.21 L93.69,214.84 L94.22,215.46 L94.75,216.07 L95.27,216.66 L95.80,217.25 L96.33,217.81 L96.86,218.37 L97.39,218.91 L97.92,219.45 L98.45,219.97 L98.98,220.47 L99.51,220.97 L100.03,221.46 L100.56,221.93 L101.09,222.40 L101.62,222.85 L102.15,223.29 L102.68,223.73 L103.21,224.15 L103.74,224.56 L104.27,224.96 L104.79,225.36 L105.32,225.74 L105.85,226.11 L106.38,226.48 L106.91,226.83 L107.44,227.18 L107.97,227.52 L108.50,227.85 L109.03,228.17 L109.55,228.48 L110.08,228.79 L110.61,229.09 L111.14,229.38 L111.67,229.66 L112.20,229.93 L112.73,230.20 L113.26,230.46 L113.79,230.71 L114.32,230.96 L114.84,231.20 L115.37,231.43 L115.90,231.66 L116.43,231.88 L116.96,232.10 L117.49,232.31 L118.02,232.51 L118.55,232.71 L119.08,232.90 L119.60,233.09 L120.13,233.27 L120.66,233.45 L121.19,233.62 L121.72,233.79 L122.25,233.96 L122.78,234.12 L123.31,234.28 L123.84,234.43 L124.36,234.58 L124.89,234.72 L125.42,234.87 L125.95,235.00 L126.48,235.14 L127.01,235.27 L127.54,235.40 L128.07,235.52 L128.60,235.64 L129.12,235.76 L129.65,235.88 L130.18,235.99 L130.71,236.10 L131.24,236.20 L131.77,236.31 L132.30,236.41 L132.83,236.50 L133.36,236.60 L133.88,236.69 L134.41,236.78 L134.94,236.86 L135.47,236.95 L136.00,237.03 L136.53,237.11 L137.06,237.19 L137.59,237.26 L138.12,237.33 L138.64,237.41 L139.17,237.47 L139.70,237.54 L140.23,237.61 L140.76,237.67 L141.29,237.73 L141.82,237.79 L142.35,237.85 L142.88,237.90 L143.40,237.96 L143.93,238.01 L144.46,238.06 L144.99,238.11 L145.52,238.16 L146.05,238.21 L146.58,238.25 L147.11,238.30 L147.64,238.34 L148.17,238.39 L148.69,238.43 L149.22,238.47 L149.75,238.51 L150.28,238.55 L150.81,238.59 L151.34,238.63 L151.87,238.66 L152.40,238.70 L152.93,238.74 L153.45,238.77 L153.98,238.80 L154.51,238.84 L155.04,238.87 L155.57,238.90 L156.10,238.93 L156.63,238.96 L157.16,238.99 L157.69,239.02 L158.21,239.04 L158.74,239.07 L159.27,239.09 L159.80,239.12 L160.33,239.14 L160.86,239.17 L161.39,239.19 L161.92,239.21 L162.45,239.23 L162.97,239.26 L163.50,239.28 L164.03,239.30 L164.56,239.31 L165.09,239.33 L165.62,239.35 L166.15,239.37 L166.68,239.39 L167.21,239.40 L167.73,239.42 L168.26,239.43 L168.79,239.45 L169.32,239.46 L169.85,239.48 L170.38,239.49 L170.91,239.50 L171.44,239.51 L171.97,239.53 L172.49,239.54 L173.02,239.55 L173.55,239.56 L174.08,239.57 L174.61,239.58 L175.14,239.59 L175.67,239.60 L176.20,239.61 L176.73,239.61 L177.25,239.62 L177.78,239.63 L178.31,239.64 L178.84,239.65 L179.37,239.65 L179.90,239.66 L180.43,239.67 L180.96,239.67 L181.49,239.68 L182.02,239.68 L182.54,239.69 L183.07,239.69 L183.60,239.70 L184.13,239.71 L184.66,239.71 L185.19,239.71 L185.72,239.72 L186.25,239.72 L186.78,239.73 L187.30,239.73 L187.83,239.74 L188.36,239.74 L188.89,239.74 L189.42,239.75 L189.95,239.75 L190.48,239.76 L191.01,239.76 L191.54,239.76 L192.06,239.77 L192.59,239.77 L193.12,239.78 L193.65,239.78 L194.18,239.78 L194.71,239.79 L195.24,239.79 L195.77,239.80 L196.30,239.80 L196.82,239.81 L197.35,239.81 L197.88,239.82 L198.41,239.82 L198.94,239.83 L199.47,239.83 L200.00,239.84 L200.53,239.84 L201.06,239.85 L201.58,239.85 L202.11,239.86 L202.64,239.87 L203.17,239.87 L203.70,239.88 L204.23,239.89 L204.76,239.89 L205.29,239.90 L205.82,239.91 L206.34,239.92 L206.87,239.93 L207.40,239.94 L207.93,239.95 L208.46,239.96 L208.99,239.97 L209.52,239.98 L210.05,239.99 L210.58,240.00 L211.11,240.01 L211.63,240.02 L212.16,240.03 L212.69,240.04 L213.22,240.05 L213.75,240.06 L214.28,240.08 L214.81,240.09 L215.34,240.10 L215.87,240.11 L216.39,240.13 L216.92,240.14 L217.45,240.15 L217.98,240.17 L218.51,240.18 L219.04,240.19 L219.57,240.21 L220.10,240.22 L220.63,240.24 L221.15,240.25 L221.68,240.27 L222.21,240.28 L222.74,240.30 L223.27,240.32 L223.80,240.33 L224.33,240.35 L224.86,240.36 L225.39,240.38 L225.91,240.40 L226.44,240.42 L226.97,240.43 L227.50,240.45 L228.03,240.47 L228.56,240.49 L229.09,240.50 L229.62,240.52 L230.15,240.54 L230.67,240.56 L231.20,240.58 L231.73,240.60 L232.26,240.61 L232.79,240.63 L233.32,240.65 L233.85,240.67 L234.38,240.69 L234.91,240.71 L235.43,240.73 L235.96,240.75 L236.49,240.77 L237.02,240.79 L237.55,240.81 L238.08,240.83 L238.61,240.85 L239.14,240.88 L239.67,240.90 L240.19,240.92 L240.72,240.94 L241.25,240.96 L241.78,240.98 L242.31,241.00 L242.84,241.03 L243.37,241.05 L243.90,241.07 L244.43,241.09 L244.96,241.12 L245.48,241.14 L246.01,241.16 L246.54,241.18 L247.07,241.21 L247.60,241.23 L248.13,241.25 L248.66,241.28 L249.19,241.30 L249.72,241.32 L250.24,241.35 L250.77,241.37 L251.30,241.39 L251.83,241.42 L252.36,241.44 L252.89,241.47 L253.42,241.49 L253.95,241.52 L254.48,241.54 L255.00,241.56 L255.53,241.59 L256.06,241.61 L256.59,241.64 L257.12,241.66 L257.65,241.69 L258.18,241.71 L258.71,241.74 L259.24,241.76 L259.76,241.79 L260.29,241.81 L260.82,241.84 L261.35,241.86 L261.88,241.89 L262.41,241.91 L262.94,241.94 L263.47,241.97 L264.00,241.99 L264.52,242.02 L265.05,242.04 L265.58,242.07 L266.11,242.09 L266.64,242.12 L267.17,242.15 L267.70,242.17 L268.23,242.20 L268.76,242.22 L269.28,242.25 L269.81,242.28 L270.34,242.30 L270.87,242.33 L271.40,242.35 L271.93,242.38 L272.46,242.41 L272.99,242.43 L273.52,242.46 L274.04,242.48 L274.57,242.51 L275.10,242.54 L275.63,242.56 L276.16,242.59 L276.69,242.62 L277.22,242.64 L277.75,242.67 L278.28,242.69 L278.81,242.72 L279.33,242.75 L279.86,242.77 L280.39,242.80 L280.92,242.83 L281.45,242.85 L281.98,242.88 L282.51,242.90 L283.04,242.93 L283.57,242.96 L284.09,242.98 L284.62,243.01 L285.15,243.04 L285.68,243.06 L286.21,243.09 L286.74,243.11 L287.27,243.14 L287.80,243.17 L288.33,243.19 L288.85,243.22 L289.38,243.24 L289.91,243.27 L290.44,243.29 L290.97,243.32 L291.50,243.35 L292.03,243.37 L292.56,243.40 L293.09,243.42 L293.61,243.45 L294.14,243.47 L294.67,243.50 L295.20,243.52 L295.73,243.55 L296.26,243.57 L296.79,243.60 L297.32,243.62 L297.85,243.65 L298.37,243.67 L298.90,243.70 L299.43,243.72 L299.96,243.75 L300.49,243.77 L301.02,243.80 L301.55,243.82 L302.08,243.85 L302.61,243.87 L303.13,243.89 L303.66,243.92 L304.19,243.94 L304.72,243.97 L305.25,243.99 L305.78,244.01 L306.31,244.04 L306.84,244.06 L307.37,244.08 L307.90,244.11 L308.42,244.13 L308.95,244.15 L309.48,244.18 L310.01,244.20 L310.54,244.22 L311.07,244.24 L311.60,244.27 L312.13,244.29 L312.66,244.31 L313.18,244.33 L313.71,244.35 L314.24,244.38 L314.77,244.40 L315.30,244.42 L315.83,244.44 L316.36,244.46 L316.89,244.48 L317.42,244.50 L317.94,244.52 L318.47,244.54 L319.00,244.56 L319.53,244.58 L320.06,244.60 L320.59,244.62 L321.12,244.64 L321.65,244.66 L322.18,244.68 L322.70,244.70 L323.23,244.72 L323.76,244.74 L324.29,244.76 L324.82,244.78 L325.35,244.80 L325.88,244.82 L326.41,244.84 L326.94,244.86 L327.46,244.87 L327.99,244.89 L328.52,244.91 L329.05,244.93 L329.58,244.95 L330.11,244.97 L330.64,244.98 L331.17,245.00 L331.70,245.02 L332.22,245.04 L332.75,245.05 L333.28,245.07 L333.81,245.09 L334.34,245.10 L334.87,245.12 L335.40,245.14 L335.93,245.15 L336.46,245.17 L336.98,245.19 L337.51,245.20 L338.04,245.22 L338.57,245.24 L339.10,245.25 L339.63,245.27 L340.16,245.28 L340.69,245.30 L341.22,245.31 L341.75,245.33 L342.27,245.34 L342.80,245.36 L343.33,245.37 L343.86,245.39 L344.39,245.40 L344.92,245.42 L345.45,245.43 L345.98,245.45 L346.51,245.46 L347.03,245.48 L347.56,245.49 L348.09,245.51 L348.62,245.52 L349.15,245.53 L349.68,245.55 L350.21,245.56 L350.74,245.58 L351.27,245.59 L351.79,245.60 L352.32,245.62 L352.85,245.63 L353.38,245.64 L353.91,245.66 L354.44,245.67 L354.97,245.68 L355.50,245.69 L356.03,245.71 L356.55,245.72 L357.08,245.73 L357.61,245.75 L358.14,245.76 L358.67,245.77 L359.20,245.78 L359.73,245.79 L360.26,245.81 L360.79,245.82 L361.31,245.83 L361.84,245.84 L362.37,245.85 L362.90,245.87 L363.43,245.88 L363.96,245.89 L364.49,245.90 L365.02,245.91 L365.55,245.92 L366.07,245.93 L366.60,245.95 L367.13,245.96 L367.66,245.97 L368.19,245.98 L368.72,245.99 L369.25,246.00 L369.78,246.01 L370.31,246.02 L370.83,246.03 L371.36,246.04 L371.89,246.05 L372.42,246.06 L372.95,246.07 L373.48,246.08 L374.01,246.09 L374.54,246.10 L375.07,246.11 L375.60,246.12 L376.12,246.13 L376.65,246.14 L377.18,246.15 L377.71,246.16 L378.24,246.17 L378.77,246.18 L379.30,246.19 L379.83,246.20 L380.36,246.21 L380.88,246.22 L381.41,246.23 L381.94,246.24 L382.47,246.25 L383.00,246.25 L383.53,246.26 L384.06,246.27 L384.59,246.28 L385.12,246.29 L385.64,246.30 L386.17,246.31 L386.70,246.32 L387.23,246.32 L387.76,246.33 L388.29,246.34 L388.82,246.35 L389.35,246.36 L389.88,246.37 L390.40,246.37 L390.93,246.38 L391.46,246.39 L391.99,246.40 L392.52,246.41 L393.05,246.42 L393.58,246.42 L394.11,246.43 L394.64,246.44 L395.16,246.45 L395.69,246.45 L396.22,246.46 L396.75,246.47 L397.28,246.48 L397.81,246.49 L398.34,246.49 L398.87,246.50 L399.40,246.51 L399.92,246.52 L400.45,246.52 L400.98,246.53 L401.51,246.54 L402.04,246.54 L402.57,246.55 L403.10,246.56 L403.63,246.57 L404.16,246.57 L404.69,246.58 L405.21,246.59 L405.74,246.59 L406.27,246.60 L406.80,246.61 L407.33,246.62 L407.86,246.62 L408.39,246.63 L408.92,246.64 L409.45,246.64 L409.97,246.65 L410.50,246.66 L411.03,246.66 L411.56,246.67 L412.09,246.68 L412.62,246.68 L413.15,246.69 L413.68,246.70 L414.21,246.70 L414.73,246.71 L415.26,246.72 L415.79,246.72 L416.32,246.73 L416.85,246.74 L417.38,246.74 L417.91,246.75 L418.44,246.76 L418.97,246.76 L419.49,246.77 L420.02,246.77 L420.55,246.78 L421.08,246.79 L421.61,246.79 L422.14,246.80 L422.67,246.81 L423.20,246.81 L423.73,246.82 L424.25,246.83 L424.78,246.83 L425.31,246.84" stroke-width="1.05"/>
</g></g>
<g clip-path="url(#plot)">
<ellipse cx="191.6" cy="952.0" rx="8.7" ry="10.05" fill="#fff" stroke="#000" stroke-width="3.7"/><ellipse cx="191.6" cy="952.0" rx="1.6" ry="3.6" fill="#000" fill-opacity="0.3"/>
<ellipse cx="447.4" cy="971.7" rx="8.7" ry="10.05" fill="#fff" stroke="#000" stroke-width="3.7"/><ellipse cx="447.4" cy="971.7" rx="1.6" ry="3.6" fill="#000" fill-opacity="0.3"/>
<ellipse cx="703.2" cy="975.8" rx="8.7" ry="10.05" fill="#fff" stroke="#000" stroke-width="3.7"/><ellipse cx="703.2" cy="975.8" rx="1.6" ry="3.6" fill="#000" fill-opacity="0.3"/>
<ellipse cx="959.2" cy="978.3" rx="8.7" ry="10.05" fill="#fff" stroke="#000" stroke-width="3.7"/><ellipse cx="959.2" cy="978.3" rx="1.6" ry="3.6" fill="#000" fill-opacity="0.3"/>
<ellipse cx="1214.8" cy="985.7" rx="8.7" ry="10.05" fill="#fff" stroke="#000" stroke-width="3.7"/><ellipse cx="1214.8" cy="985.7" rx="1.6" ry="3.6" fill="#000" fill-opacity="0.3"/>
<ellipse cx="1470.6" cy="985.5" rx="8.7" ry="10.05" fill="#fff" stroke="#000" stroke-width="3.7"/><ellipse cx="1470.6" cy="985.5" rx="1.6" ry="3.6" fill="#000" fill-opacity="0.3"/>
<rect x="190" y="509" width="3" height="4" fill="#000" fill-opacity="0.2"/><rect x="193" y="509" width="4" height="4" fill="#000"/><rect x="197" y="509" width="3" height="4" fill="#000" fill-opacity="0.3"/><rect x="190" y="513" width="3" height="5" fill="#000" fill-opacity="0.92"/><rect x="193" y="513" width="4" height="5" fill="#fff" fill-opacity="0.64"/><rect x="193" y="513" width="4" height="5" fill="#000" fill-opacity="0.42"/><rect x="197" y="513" width="3" height="5" fill="#000" fill-opacity="0.92"/><rect x="186" y="518" width="4" height="4" fill="#000" fill-opacity="0.45"/><rect x="190" y="518" width="3" height="4" fill="#000"/><rect x="193" y="518" width="4" height="4" fill="#fff" fill-opacity="0.64"/><rect x="193" y="518" width="4" height="4" fill="#000" fill-opacity="0.08"/><rect x="197" y="518" width="3" height="4" fill="#000"/><rect x="200" y="518" width="4" height="4" fill="#000" fill-opacity="0.45"/><rect x="186" y="522" width="4" height="4" fill="#000"/><rect x="190" y="522" width="3" height="4" fill="#fff" fill-opacity="0.64"/><rect x="193" y="522" width="4" height="4" fill="#fff" fill-opacity="0.64"/><rect x="193" y="522" width="4" height="4" fill="#000" fill-opacity="0.05"/><rect x="197" y="522" width="3" height="4" fill="#fff" fill-opacity="0.64"/><rect x="200" y="522" width="4" height="4" fill="#000"/><rect x="183" y="526" width="3" height="4" fill="#000" fill-opacity="0.35"/><rect x="186" y="526" width="4" height="4" fill="#000"/><rect x="190" y="526" width="3" height="4" fill="#000"/><rect x="193" y="526" width="4" height="4" fill="#000"/><rect x="197" y="526" width="3" height="4" fill="#000"/><rect x="200" y="526" width="4" height="4" fill="#000"/><rect x="204" y="526" width="3" height="4" fill="#000" fill-opacity="0.15"/>
<rect x="197" y="526" width="3" height="4" fill="#000" fill-opacity="0.2"/><rect x="200" y="526" width="4" height="4" fill="#000"/><rect x="204" y="526" width="3" height="4" fill="#000" fill-opacity="0.3"/><rect x="197" y="530" width="3" height="4" fill="#000" fill-opacity="0.92"/><rect x="200" y="530" width="4" height="4" fill="#fff" fill-opacity="0.64"/><rect x="200" y="530" width="4" height="4" fill="#000" fill-opacity="0.42"/><rect x="204" y="530" width="3" height="4" fill="#000" fill-opacity="0.92"/><rect x="193" y="534" width="4" height="4" fill="#000" fill-opacity="0.45"/><rect x="197" y="534" width="3" height="4" fill="#000"/><rect x="200" y="534" width="4" height="4" fill="#fff" fill-opacity="0.64"/><rect x="200" y="534" width="4" height="4" fill="#000" fill-opacity="0.08"/><rect x="204" y="534" width="3" height="4" fill="#000"/><rect x="207" y="534" width="4" height="4" fill="#000" fill-opacity="0.45"/><rect x="193" y="538" width="4" height="4" fill="#000"/><rect x="197" y="538" width="3" height="4" fill="#fff" fill-opacity="0.64"/><rect x="200" y="538" width="4" height="4" fill="#fff" fill-opacity="0.64"/><rect x="200" y="538" width="4" height="4" fill="#000" fill-opacity="0.05"/><rect x="204" y="538" width="3" height="4" fill="#fff" fill-opacity="0.64"/><rect x="207" y="538" width="4" height="4" fill="#000"/><rect x="190" y="542" width="3" height="4" fill="#000" fill-opacity="0.35"/><rect x="193" y="542" width="4" height="4" fill="#000"/><rect x="197" y="542" width="3" height="4" fill="#000"/><rect x="200" y="542" width="4" height="4" fill="#000"/><rect x="204" y="542" width="3" height="4" fill="#000"/><rect x="207" y="542" width="4" height="4" fill="#000"/><rect x="211" y="542" width="3" height="4" fill="#000" fill-opacity="0.15"/>
<rect x="207" y="550" width="4" height="4" fill="#000" fill-opacity="0.2"/><rect x="211" y="550" width="3" height="4" fill="#000"/><rect x="214" y="550" width="4" height="4" fill="#000" fill-opacity="0.3"/><rect x="207" y="554" width="4" height="4" fill="#000" fill-opacity="0.92"/><rect x="211" y="554" width="3" height="4" fill="#fff" fill-opacity="0.64"/><rect x="211" y="554" width="3" height="4" fill="#000" fill-opacity="0.42"/><rect x="214" y="554" width="4" height="4" fill="#000" fill-opacity="0.92"/><rect x="204" y="558" width="3" height="4" fill="#000" fill-opacity="0.45"/><rect x="207" y="558" width="4" height="4" fill="#000"/><rect x="211" y="558" width="3" height="4" fill="#fff" fill-opacity="0.64"/><rect x="211" y="558" width="3" height="4" fill="#000" fill-opacity="0.08"/><rect x="214" y="558" width="4" height="4" fill="#000"/><rect x="218" y="558" width="3" height="4" fill="#000" fill-opacity="0.45"/><rect x="204" y="562" width="3" height="4" fill="#000"/><rect x="207" y="562" width="4" height="4" fill="#fff" fill-opacity="0.64"/><rect x="211" y="562" width="3" height="4" fill="#fff" fill-opacity="0.64"/><rect x="211" y="562" width="3" height="4" fill="#000" fill-opacity="0.05"/><rect x="214" y="562" width="4" height="4" fill="#fff" fill-opacity="0.64"/><rect x="218" y="562" width="3" height="4" fill="#000"/><rect x="200" y="566" width="4" height="4" fill="#000" fill-opacity="0.35"/><rect x="204" y="566" width="3" height="4" fill="#000"/><rect x="207" y="566" width="4" height="4" fill="#000"/><rect x="211" y="566" width="3" height="4" fill="#000"/><rect x="214" y="566" width="4" height="4" fill="#000"/><rect x="218" y="566" width="3" height="4" fill="#000"/><rect x="221" y="566" width="3" height="4" fill="#000" fill-opacity="0.15"/>
<rect x="214" y="582" width="4" height="4" fill="#000" fill-opacity="0.2"/><rect x="218" y="582" width="3" height="4" fill="#000"/><rect x="221" y="582" width="3" height="4" fill="#000" fill-opacity="0.3"/><rect x="214" y="586" width="4" height="4" fill="#000" fill-opacity="0.92"/><rect x="218" y="586" width="3" height="4" fill="#fff" fill-opacity="0.64"/><rect x="218" y="586" width="3" height="4" fill="#000" fill-opacity="0.42"/><rect x="221" y="586" width="3" height="4" fill="#000" fill-opacity="0.92"/><rect x="211" y="590" width="3" height="4" fill="#000" fill-opacity="0.45"/><rect x="214" y="590" width="4" height="4" fill="#000"/><rect x="218" y="590" width="3" height="4" fill="#fff" fill-opacity="0.64"/><rect x="218" y="590" width="3" height="4" fill="#000" fill-opacity="0.08"/><rect x="221" y="590" width="3" height="4" fill="#000"/><rect x="224" y="590" width="4" height="4" fill="#000" fill-opacity="0.45"/><rect x="211" y="594" width="3" height="4" fill="#000"/><rect x="214" y="594" width="4" height="4" fill="#fff" fill-opacity="0.64"/><rect x="218" y="594" width="3" height="4" fill="#fff" fill-opacity="0.64"/><rect x="218" y="594" width="3" height="4" fill="#000" fill-opacity="0.05"/><rect x="221" y="594" width="3" height="4" fill="#fff" fill-opacity="0.64"/><rect x="224" y="594" width="4" height="4" fill="#000"/><rect x="207" y="598" width="4" height="4" fill="#000" fill-opacity="0.35"/><rect x="211" y="598" width="3" height="4" fill="#000"/><rect x="214" y="598" width="4" height="4" fill="#000"/><rect x="218" y="598" width="3" height="4" fill="#000"/><rect x="221" y="598" width="3" height="4" fill="#000"/><rect x="224" y="598" width="4" height="4" fill="#000"/><rect x="228" y="598" width="3" height="4" fill="#000" fill-opacity="0.15"/>
<rect x="221" y="614" width="3" height="4" fill="#000" fill-opacity="0.2"/><rect x="224" y="614" width="4" height="4" fill="#000"/><rect x="228" y="614" width="3" height="4" fill="#000" fill-opacity="0.3"/><rect x="221" y="618" width="3" height="4" fill="#000" fill-opacity="0.92"/><rect x="224" y="618" width="4" height="4" fill="#fff" fill-opacity="0.64"/><rect x="224" y="618" width="4" height="4" fill="#000" fill-opacity="0.42"/><rect x="228" y="618" width="3" height="4" fill="#000" fill-opacity="0.92"/><rect x="218" y="622" width="3" height="4" fill="#000" fill-opacity="0.45"/><rect x="221" y="622" width="3" height="4" fill="#000"/><rect x="224" y="622" width="4" height="4" fill="#fff" fill-opacity="0.64"/><rect x="224" y="622" width="4" height="4" fill="#000" fill-opacity="0.08"/><rect x="228" y="622" width="3" height="4" fill="#000"/><rect x="231" y="622" width="4" height="4" fill="#000" fill-opacity="0.45"/><rect x="218" y="626" width="3" height="4" fill="#000"/><rect x="221" y="626" width="3" height="4" fill="#fff" fill-opacity="0.64"/><rect x="224" y="626" width="4" height="4" fill="#fff" fill-opacity="0.64"/><rect x="224" y="626" width="4" height="4" fill="#000" fill-opacity="0.05"/><rect x="228" y="626" width="3" height="4" fill="#fff" fill-opacity="0.64"/><rect x="231" y="626" width="4" height="4" fill="#000"/><rect x="214" y="630" width="4" height="4" fill="#000" fill-opacity="0.35"/><rect x="218" y="630" width="3" height="4" fill="#000"/><rect x="221" y="630" width="3" height="4" fill="#000"/><rect x="224" y="630" width="4" height="4" fill="#000"/><rect x="228" y="630" width="3" height="4" fill="#000"/><rect x="231" y="630" width="4" height="4" fill="#000"/><rect x="235" y="630" width="3" height="4" fill="#000" fill-opacity="0.15"/>
<rect x="228" y="646" width="3" height="4" fill="#000" fill-opacity="0.2"/><rect x="231" y="646" width="4" height="4" fill="#000"/><rect x="235" y="646" width="3" height="4" fill="#000" fill-opacity="0.3"/><rect x="228" y="650" width="3" height="4" fill="#000" fill-opacity="0.92"/><rect x="231" y="650" width="4" height="4" fill="#fff" fill-opacity="0.64"/><rect x="231" y="650" width="4" height="4" fill="#000" fill-opacity="0.42"/><rect x="235" y="650" width="3" height="4" fill="#000" fill-opacity="0.92"/><rect x="224" y="654" width="4" height="4" fill="#000" fill-opacity="0.45"/><rect x="228" y="654" width="3" height="4" fill="#000"/><rect x="231" y="654" width="4" height="4" fill="#fff" fill-opacity="0.64"/><rect x="231" y="654" width="4" height="4" fill="#000" fill-opacity="0.08"/><rect x="235" y="654" width="3" height="4" fill="#000"/><rect x="238" y="654" width="4" height="4" fill="#000" fill-opacity="0.45"/><rect x="224" y="658" width="4" height="4" fill="#000"/><rect x="228" y="658" width="3" height="4" fill="#fff" fill-opacity="0.64"/><rect x="231" y="658" width="4" height="4" fill="#fff" fill-opacity="0.64"/><rect x="231" y="658" width="4" height="4" fill="#000" fill-opacity="0.05"/><rect x="235" y="658" width="3" height="4" fill="#fff" fill-opacity="0.64"/><rect x="238" y="658" width="4" height="4" fill="#000"/><rect x="221" y="662" width="3" height="4" fill="#000" fill-opacity="0.35"/><rect x="224" y="662" width="4" height="4" fill="#000"/><rect x="228" y="662" width="3" height="4" fill="#000"/><rect x="231" y="662" width="4" height="4" fill="#000"/><rect x="235" y="662" width="3" height="4" fill="#000"/><rect x="238" y="662" width="4" height="4" fill="#000"/><rect x="242" y="662" width="3" height="4" fill="#000" fill-opacity="0.15"/>
<rect x="273" y="775" width="3" height="4" fill="#000" fill-opacity="0.2"/><rect x="276" y="775" width="4" height="4" fill="#000"/><rect x="280" y="775" width="3" height="4" fill="#000" fill-opacity="0.3"/><rect x="273" y="779" width="3" height="4" fill="#000" fill-opacity="0.92"/><rect x="276" y="779" width="4" height="4" fill="#fff" fill-opacity="0.64"/><rect x="276" y="779" width="4" height="4" fill="#000" fill-opacity="0.42"/><rect x="280" y="779" width="3" height="4" fill="#000" fill-opacity="0.92"/><rect x="269" y="783" width="4" height="4" fill="#000" fill-opacity="0.45"/><rect x="273" y="783" width="3" height="4" fill="#000"/><rect x="276" y="783" width="4" height="4" fill="#fff" fill-opacity="0.64"/><rect x="276" y="783" width="4" height="4" fill="#000" fill-opacity="0.08"/><rect x="280" y="783" width="3" height="4" fill="#000"/><rect x="283" y="783" width="4" height="4" fill="#000" fill-opacity="0.45"/><rect x="269" y="787" width="4" height="4" fill="#000"/><rect x="273" y="787" width="3" height="4" fill="#fff" fill-opacity="0.64"/><rect x="276" y="787" width="4" height="4" fill="#fff" fill-opacity="0.64"/><rect x="276" y="787" width="4" height="4" fill="#000" fill-opacity="0.05"/><rect x="280" y="787" width="3" height="4" fill="#fff" fill-opacity="0.64"/><rect x="283" y="787" width="4" height="4" fill="#000"/><rect x="266" y="791" width="3" height="4" fill="#000" fill-opacity="0.35"/><rect x="269" y="791" width="4" height="4" fill="#000"/><rect x="273" y="791" width="3" height="4" fill="#000"/><rect x="276" y="791" width="4" height="4" fill="#000"/><rect x="280" y="791" width="3" height="4" fill="#000"/><rect x="283" y="791" width="4" height="4" fill="#000"/><rect x="287" y="791" width="3" height="4" fill="#000" fill-opacity="0.15"/>
<rect x="314" y="851" width="4" height="4" fill="#000" fill-opacity="0.2"/><rect x="318" y="851" width="3" height="4" fill="#000"/><rect x="321" y="851" width="4" height="4" fill="#000" fill-opacity="0.3"/><rect x="314" y="855" width="4" height="4" fill="#000" fill-opacity="0.92"/><rect x="318" y="855" width="3" height="4" fill="#fff" fill-opacity="0.64"/><rect x="318" y="855" width="3" height="4" fill="#000" fill-opacity="0.42"/><rect x="321" y="855" width="4" height="4" fill="#000" fill-opacity="0.92"/><rect x="311" y="859" width="3" height="4" fill="#000" fill-opacity="0.45"/><rect x="314" y="859" width="4" height="4" fill="#000"/><rect x="318" y="859" width="3" height="4" fill="#fff" fill-opacity="0.64"/><rect x="318" y="859" width="3" height="4" fill="#000" fill-opacity="0.08"/><rect x="321" y="859" width="4" height="4" fill="#000"/><rect x="325" y="859" width="3" height="4" fill="#000" fill-opacity="0.45"/><rect x="311" y="863" width="3" height="4" fill="#000"/><rect x="314" y="863" width="4" height="4" fill="#fff" fill-opacity="0.64"/><rect x="318" y="863" width="3" height="4" fill="#fff" fill-opacity="0.64"/><rect x="318" y="863" width="3" height="4" fill="#000" fill-opacity="0.05"/><rect x="321" y="863" width="4" height="4" fill="#fff" fill-opacity="0.64"/><rect x="325" y="863" width="3" height="4" fill="#000"/><rect x="307" y="867" width="4" height="4" fill="#000" fill-opacity="0.35"/><rect x="311" y="867" width="3" height="4" fill="#000"/><rect x="314" y="867" width="4" height="4" fill="#000"/><rect x="318" y="867" width="3" height="4" fill="#000"/><rect x="321" y="867" width="4" height="4" fill="#000"/><rect x="325" y="867" width="3" height="4" fill="#000"/><rect x="328" y="867" width="4" height="4" fill="#000" fill-opacity="0.15"/>
<rect x="356" y="900" width="3" height="4" fill="#000" fill-opacity="0.2"/><rect x="359" y="900" width="4" height="4" fill="#000"/><rect x="363" y="900" width="3" height="4" fill="#000" fill-opacity="0.3"/><rect x="356" y="904" width="3" height="4" fill="#000" fill-opacity="0.92"/><rect x="359" y="904" width="4" height="4" fill="#fff" fill-opacity="0.64"/><rect x="359" y="904" width="4" height="4" fill="#000" fill-opacity="0.42"/><rect x="363" y="904" width="3" height="4" fill="#000" fill-opacity="0.92"/><rect x="352" y="908" width="4" height="4" fill="#000" fill-opacity="0.45"/><rect x="356" y="908" width="3" height="4" fill="#000"/><rect x="359" y="908" width="4" height="4" fill="#fff" fill-opacity="0.64"/><rect x="359" y="908" width="4" height="4" fill="#000" fill-opacity="0.08"/><rect x="363" y="908" width="3" height="4" fill="#000"/><rect x="366" y="908" width="4" height="4" fill="#000" fill-opacity="0.45"/><rect x="352" y="912" width="4" height="4" fill="#000"/><rect x="356" y="912" width="3" height="4" fill="#fff" fill-opacity="0.64"/><rect x="359" y="912" width="4" height="4" fill="#fff" fill-opacity="0.64"/><rect x="359" y="912" width="4" height="4" fill="#000" fill-opacity="0.05"/><rect x="363" y="912" width="3" height="4" fill="#fff" fill-opacity="0.64"/><rect x="366" y="912" width="4" height="4" fill="#000"/><rect x="349" y="916" width="3" height="4" fill="#000" fill-opacity="0.35"/><rect x="352" y="916" width="4" height="4" fill="#000"/><rect x="356" y="916" width="3" height="4" fill="#000"/><rect x="359" y="916" width="4" height="4" fill="#000"/><rect x="363" y="916" width="3" height="4" fill="#000"/><rect x="366" y="916" width="4" height="4" fill="#000"/><rect x="370" y="916" width="3" height="4" fill="#000" fill-opacity="0.15"/>
<rect x="401" y="924" width="3" height="4" fill="#000" fill-opacity="0.2"/><rect x="404" y="924" width="4" height="4" fill="#000"/><rect x="408" y="924" width="3" height="4" fill="#000" fill-opacity="0.3"/><rect x="401" y="928" width="3" height="4" fill="#000" fill-opacity="0.92"/><rect x="404" y="928" width="4" height="4" fill="#fff" fill-opacity="0.64"/><rect x="404" y="928" width="4" height="4" fill="#000" fill-opacity="0.42"/><rect x="408" y="928" width="3" height="4" fill="#000" fill-opacity="0.92"/><rect x="397" y="932" width="4" height="4" fill="#000" fill-opacity="0.45"/><rect x="401" y="932" width="3" height="4" fill="#000"/><rect x="404" y="932" width="4" height="4" fill="#fff" fill-opacity="0.64"/><rect x="404" y="932" width="4" height="4" fill="#000" fill-opacity="0.08"/><rect x="408" y="932" width="3" height="4" fill="#000"/><rect x="411" y="932" width="4" height="4" fill="#000" fill-opacity="0.45"/><rect x="397" y="936" width="4" height="4" fill="#000"/><rect x="401" y="936" width="3" height="4" fill="#fff" fill-opacity="0.64"/><rect x="404" y="936" width="4" height="4" fill="#fff" fill-opacity="0.64"/><rect x="404" y="936" width="4" height="4" fill="#000" fill-opacity="0.05"/><rect x="408" y="936" width="3" height="4" fill="#fff" fill-opacity="0.64"/><rect x="411" y="936" width="4" height="4" fill="#000"/><rect x="394" y="940" width="3" height="4" fill="#000" fill-opacity="0.35"/><rect x="397" y="940" width="4" height="4" fill="#000"/><rect x="401" y="940" width="3" height="4" fill="#000"/><rect x="404" y="940" width="4" height="4" fill="#000"/><rect x="408" y="940" width="3" height="4" fill="#000"/><rect x="411" y="940" width="4" height="4" fill="#000"/><rect x="415" y="940" width="3" height="4" fill="#000" fill-opacity="0.15"/>
<rect x="442" y="940" width="4" height="4" fill="#000" fill-opacity="0.2"/><rect x="446" y="940" width="3" height="4" fill="#000"/><rect x="449" y="940" width="4" height="4" fill="#000" fill-opacity="0.3"/><rect x="442" y="944" width="4" height="4" fill="#000" fill-opacity="0.92"/><rect x="446" y="944" width="3" height="4" fill="#fff" fill-opacity="0.64"/><rect x="446" y="944" width="3" height="4" fill="#000" fill-opacity="0.42"/><rect x="449" y="944" width="4" height="4" fill="#000" fill-opacity="0.92"/><rect x="439" y="948" width="3" height="4" fill="#000" fill-opacity="0.45"/><rect x="442" y="948" width="4" height="4" fill="#000"/><rect x="446" y="948" width="3" height="4" fill="#fff" fill-opacity="0.64"/><rect x="446" y="948" width="3" height="4" fill="#000" fill-opacity="0.08"/><rect x="449" y="948" width="4" height="4" fill="#000"/><rect x="453" y="948" width="3" height="4" fill="#000" fill-opacity="0.45"/><rect x="439" y="952" width="3" height="4" fill="#000"/><rect x="442" y="952" width="4" height="4" fill="#fff" fill-opacity="0.64"/><rect x="446" y="952" width="3" height="4" fill="#fff" fill-opacity="0.64"/><rect x="446" y="952" width="3" height="4" fill="#000" fill-opacity="0.05"/><rect x="449" y="952" width="4" height="4" fill="#fff" fill-opacity="0.64"/><rect x="453" y="952" width="3" height="4" fill="#000"/><rect x="435" y="956" width="4" height="4" fill="#000" fill-opacity="0.35"/><rect x="439" y="956" width="3" height="4" fill="#000"/><rect x="442" y="956" width="4" height="4" fill="#000"/><rect x="446" y="956" width="3" height="4" fill="#000"/><rect x="449" y="956" width="4" height="4" fill="#000"/><rect x="453" y="956" width="3" height="4" fill="#000"/><rect x="456" y="956" width="4" height="4" fill="#000" fill-opacity="0.15"/>
<rect x="484" y="948" width="3" height="4" fill="#000" fill-opacity="0.2"/><rect x="487" y="948" width="4" height="4" fill="#000"/><rect x="491" y="948" width="3" height="4" fill="#000" fill-opacity="0.3"/><rect x="484" y="952" width="3" height="4" fill="#000" fill-opacity="0.92"/><rect x="487" y="952" width="4" height="4" fill="#fff" fill-opacity="0.64"/><rect x="487" y="952" width="4" height="4" fill="#000" fill-opacity="0.42"/><rect x="491" y="952" width="3" height="4" fill="#000" fill-opacity="0.92"/><rect x="480" y="956" width="4" height="4" fill="#000" fill-opacity="0.45"/><rect x="484" y="956" width="3" height="4" fill="#000"/><rect x="487" y="956" width="4" height="4" fill="#fff" fill-opacity="0.64"/><rect x="487" y="956" width="4" height="4" fill="#000" fill-opacity="0.08"/><rect x="491" y="956" width="3" height="4" fill="#000"/><rect x="494" y="956" width="4" height="4" fill="#000" fill-opacity="0.45"/><rect x="480" y="960" width="4" height="4" fill="#000"/><rect x="484" y="960" width="3" height="4" fill="#fff" fill-opacity="0.64"/><rect x="487" y="960" width="4" height="4" fill="#fff" fill-opacity="0.64"/><rect x="487" y="960" width="4" height="4" fill="#000" fill-opacity="0.05"/><rect x="491" y="960" width="3" height="4" fill="#fff" fill-opacity="0.64"/><rect x="494" y="960" width="4" height="4" fill="#000"/><rect x="477" y="964" width="3" height="4" fill="#000" fill-opacity="0.35"/><rect x="480" y="964" width="4" height="4" fill="#000"/><rect x="484" y="964" width="3" height="4" fill="#000"/><rect x="487" y="964" width="4" height="4" fill="#000"/><rect x="491" y="964" width="3" height="4" fill="#000"/><rect x="494" y="964" width="4" height="4" fill="#000"/><rect x="498" y="964" width="3" height="4" fill="#000" fill-opacity="0.15"/>
<rect x="529" y="952" width="3" height="4" fill="#000" fill-opacity="0.2"/><rect x="532" y="952" width="4" height="4" fill="#000"/><rect x="536" y="952" width="3" height="4" fill="#000" fill-opacity="0.3"/><rect x="529" y="956" width="3" height="4" fill="#000" fill-opacity="0.92"/><rect x="532" y="956" width="4" height="4" fill="#fff" fill-opacity="0.64"/><rect x="532" y="956" width="4" height="4" fill="#000" fill-opacity="0.42"/><rect x="536" y="956" width="3" height="4" fill="#000" fill-opacity="0.92"/><rect x="525" y="960" width="4" height="4" fill="#000" fill-opacity="0.45"/><rect x="529" y="960" width="3" height="4" fill="#000"/><rect x="532" y="960" width="4" height="4" fill="#fff" fill-opacity="0.64"/><rect x="532" y="960" width="4" height="4" fill="#000" fill-opacity="0.08"/><rect x="536" y="960" width="3" height="4" fill="#000"/><rect x="539" y="960" width="3" height="4" fill="#000" fill-opacity="0.45"/><rect x="525" y="964" width="4" height="4" fill="#000"/><rect x="529" y="964" width="3" height="4" fill="#fff" fill-opacity="0.64"/><rect x="532" y="964" width="4" height="4" fill="#fff" fill-opacity="0.64"/><rect x="532" y="964" width="4" height="4" fill="#000" fill-opacity="0.05"/><rect x="536" y="964" width="3" height="4" fill="#fff" fill-opacity="0.64"/><rect x="539" y="964" width="3" height="4" fill="#000"/><rect x="522" y="968" width="3" height="4" fill="#000" fill-opacity="0.35"/><rect x="525" y="968" width="4" height="4" fill="#000"/><rect x="529" y="968" width="3" height="4" fill="#000"/><rect x="532" y="968" width="4" height="4" fill="#000"/><rect x="536" y="968" width="3" height="4" fill="#000"/><rect x="539" y="968" width="3" height="4" fill="#000"/><rect x="542" y="968" width="4" height="4" fill="#000" fill-opacity="0.15"/>
<rect x="570" y="956" width="4" height="4" fill="#000" fill-opacity="0.2"/><rect x="574" y="956" width="3" height="4" fill="#000"/><rect x="577" y="956" width="4" height="4" fill="#000" fill-opacity="0.3"/><rect x="570" y="960" width="4" height="4" fill="#000" fill-opacity="0.92"/><rect x="574" y="960" width="3" height="4" fill="#fff" fill-opacity="0.64"/><rect x="574" y="960" width="3" height="4" fill="#000" fill-opacity="0.42"/><rect x="577" y="960" width="4" height="4" fill="#000" fill-opacity="0.92"/><rect x="567" y="964" width="3" height="4" fill="#000" fill-opacity="0.45"/><rect x="570" y="964" width="4" height="4" fill="#000"/><rect x="574" y="964" width="3" height="4" fill="#fff" fill-opacity="0.64"/><rect x="574" y="964" width="3" height="4" fill="#000" fill-opacity="0.08"/><rect x="577" y="964" width="4" height="4" fill="#000"/><rect x="581" y="964" width="3" height="4" fill="#000" fill-opacity="0.45"/><rect x="567" y="968" width="3" height="4" fill="#000"/><rect x="570" y="968" width="4" height="4" fill="#fff" fill-opacity="0.64"/><rect x="574" y="968" width="3" height="4" fill="#fff" fill-opacity="0.64"/><rect x="574" y="968" width="3" height="4" fill="#000" fill-opacity="0.05"/><rect x="577" y="968" width="4" height="4" fill="#fff" fill-opacity="0.64"/><rect x="581" y="968" width="3" height="4" fill="#000"/><rect x="563" y="972" width="4" height="4" fill="#000" fill-opacity="0.35"/><rect x="567" y="972" width="3" height="4" fill="#000"/><rect x="570" y="972" width="4" height="4" fill="#000"/><rect x="574" y="972" width="3" height="4" fill="#000"/><rect x="577" y="972" width="4" height="4" fill="#000"/><rect x="581" y="972" width="3" height="4" fill="#000"/><rect x="584" y="972" width="3" height="4" fill="#000" fill-opacity="0.15"/>
<rect x="612" y="952" width="3" height="4" fill="#000" fill-opacity="0.2"/><rect x="615" y="952" width="4" height="4" fill="#000"/><rect x="619" y="952" width="3" height="4" fill="#000" fill-opacity="0.3"/><rect x="612" y="956" width="3" height="4" fill="#000" fill-opacity="0.92"/><rect x="615" y="956" width="4" height="4" fill="#fff" fill-opacity="0.64"/><rect x="615" y="956" width="4" height="4" fill="#000" fill-opacity="0.42"/><rect x="619" y="956" width="3" height="4" fill="#000" fill-opacity="0.92"/><rect x="608" y="960" width="4" height="4" fill="#000" fill-opacity="0.45"/><rect x="612" y="960" width="3" height="4" fill="#000"/><rect x="615" y="960" width="4" height="4" fill="#fff" fill-opacity="0.64"/><rect x="615" y="960" width="4" height="4" fill="#000" fill-opacity="0.08"/><rect x="619" y="960" width="3" height="4" fill="#000"/><rect x="622" y="960" width="3" height="4" fill="#000" fill-opacity="0.45"/><rect x="608" y="964" width="4" height="4" fill="#000"/><rect x="612" y="964" width="3" height="4" fill="#fff" fill-opacity="0.64"/><rect x="615" y="964" width="4" height="4" fill="#fff" fill-opacity="0.64"/><rect x="615" y="964" width="4" height="4" fill="#000" fill-opacity="0.05"/><rect x="619" y="964" width="3" height="4" fill="#fff" fill-opacity="0.64"/><rect x="622" y="964" width="3" height="4" fill="#000"/><rect x="605" y="968" width="3" height="4" fill="#000" fill-opacity="0.35"/><rect x="608" y="968" width="4" height="4" fill="#000"/><rect x="612" y="968" width="3" height="4" fill="#000"/><rect x="615" y="968" width="4" height="4" fill="#000"/><rect x="619" y="968" width="3" height="4" fill="#000"/><rect x="622" y="968" width="3" height="4" fill="#000"/><rect x="625" y="968" width="4" height="4" fill="#000" fill-opacity="0.15"/>
<rect x="657" y="952" width="3" height="4" fill="#000" fill-opacity="0.2"/><rect x="660" y="952" width="3" height="4" fill="#000"/><rect x="663" y="952" width="4" height="4" fill="#000" fill-opacity="0.3"/><rect x="657" y="956" width="3" height="4" fill="#000" fill-opacity="0.92"/><rect x="660" y="956" width="3" height="4" fill="#fff" fill-opacity="0.64"/><rect x="660" y="956" width="3" height="4" fill="#000" fill-opacity="0.42"/><rect x="663" y="956" width="4" height="4" fill="#000" fill-opacity="0.92"/><rect x="653" y="960" width="4" height="4" fill="#000" fill-opacity="0.45"/><rect x="657" y="960" width="3" height="4" fill="#000"/><rect x="660" y="960" width="3" height="4" fill="#fff" fill-opacity="0.64"/><rect x="660" y="960" width="3" height="4" fill="#000" fill-opacity="0.08"/><rect x="663" y="960" width="4" height="4" fill="#000"/><rect x="667" y="960" width="3" height="4" fill="#000" fill-opacity="0.45"/><rect x="653" y="964" width="4" height="4" fill="#000"/><rect x="657" y="964" width="3" height="4" fill="#fff" fill-opacity="0.64"/><rect x="660" y="964" width="3" height="4" fill="#fff" fill-opacity="0.64"/><rect x="660" y="964" width="3" height="4" fill="#000" fill-opacity="0.05"/><rect x="663" y="964" width="4" height="4" fill="#fff" fill-opacity="0.64"/><rect x="667" y="964" width="3" height="4" fill="#000"/><rect x="650" y="968" width="3" height="4" fill="#000" fill-opacity="0.35"/><rect x="653" y="968" width="4" height="4" fill="#000"/><rect x="657" y="968" width="3" height="4" fill="#000"/><rect x="660" y="968" width="3" height="4" fill="#000"/><rect x="663" y="968" width="4" height="4" fill="#000"/><rect x="667" y="968" width="3" height="4" fill="#000"/><rect x="670" y="968" width="4" height="4" fill="#000" fill-opacity="0.15"/>
<rect x="698" y="952" width="4" height="4" fill="#000" fill-opacity="0.2"/><rect x="702" y="952" width="3" height="4" fill="#000"/><rect x="705" y="952" width="3" height="4" fill="#000" fill-opacity="0.3"/><rect x="698" y="956" width="4" height="4" fill="#000" fill-opacity="0.92"/><rect x="702" y="956" width="3" height="4" fill="#fff" fill-opacity="0.64"/><rect x="702" y="956" width="3" height="4" fill="#000" fill-opacity="0.42"/><rect x="705" y="956" width="3" height="4" fill="#000" fill-opacity="0.92"/><rect x="695" y="960" width="3" height="4" fill="#000" fill-opacity="0.45"/><rect x="698" y="960" width="4" height="4" fill="#000"/><rect x="702" y="960" width="3" height="4" fill="#fff" fill-opacity="0.64"/><rect x="702" y="960" width="3" height="4" fill="#000" fill-opacity="0.08"/><rect x="705" y="960" width="3" height="4" fill="#000"/><rect x="708" y="960" width="4" height="4" fill="#000" fill-opacity="0.45"/><rect x="695" y="964" width="3" height="4" fill="#000"/><rect x="698" y="964" width="4" height="4" fill="#fff" fill-opacity="0.64"/><rect x="702" y="964" width="3" height="4" fill="#fff" fill-opacity="0.64"/><rect x="702" y="964" width="3" height="4" fill="#000" fill-opacity="0.05"/><rect x="705" y="964" width="3" height="4" fill="#fff" fill-opacity="0.64"/><rect x="708" y="964" width="4" height="4" fill="#000"/><rect x="691" y="968" width="4" height="4" fill="#000" fill-opacity="0.35"/><rect x="695" y="968" width="3" height="4" fill="#000"/><rect x="698" y="968" width="4" height="4" fill="#000"/><rect x="702" y="968" width="3" height="4" fill="#000"/><rect x="705" y="968" width="3" height="4" fill="#000"/><rect x="708" y="968" width="4" height="4" fill="#000"/><rect x="712" y="968" width="3" height="4" fill="#000" fill-opacity="0.15"/>
<rect x="740" y="956" width="3" height="4" fill="#000" fill-opacity="0.2"/><rect x="743" y="956" width="3" height="4" fill="#000"/><rect x="746" y="956" width="4" height="4" fill="#000" fill-opacity="0.3"/><rect x="740" y="960" width="3" height="4" fill="#000" fill-opacity="0.92"/><rect x="743" y="960" width="3" height="4" fill="#fff" fill-opacity="0.64"/><rect x="743" y="960" width="3" height="4" fill="#000" fill-opacity="0.42"/><rect x="746" y="960" width="4" height="4" fill="#000" fill-opacity="0.92"/><rect x="736" y="964" width="4" height="4" fill="#000" fill-opacity="0.45"/><rect x="740" y="964" width="3" height="4" fill="#000"/><rect x="743" y="964" width="3" height="4" fill="#fff" fill-opacity="0.64"/><rect x="743" y="964" width="3" height="4" fill="#000" fill-opacity="0.08"/><rect x="746" y="964" width="4" height="4" fill="#000"/><rect x="750" y="964" width="3" height="4" fill="#000" fill-opacity="0.45"/><rect x="736" y="968" width="4" height="4" fill="#000"/><rect x="740" y="968" width="3" height="4" fill="#fff" fill-opacity="0.64"/><rect x="743" y="968" width="3" height="4" fill="#fff" fill-opacity="0.64"/><rect x="743" y="968" width="3" height="4" fill="#000" fill-opacity="0.05"/><rect x="746" y="968" width="4" height="4" fill="#fff" fill-opacity="0.64"/><rect x="750" y="968" width="3" height="4" fill="#000"/><rect x="733" y="972" width="3" height="4" fill="#000" fill-opacity="0.35"/><rect x="736" y="972" width="4" height="4" fill="#000"/><rect x="740" y="972" width="3" height="4" fill="#000"/><rect x="743" y="972" width="3" height="4" fill="#000"/><rect x="746" y="972" width="4" height="4" fill="#000"/><rect x="750" y="972" width="3" height="4" fill="#000"/><rect x="753" y="972" width="4" height="4" fill="#000" fill-opacity="0.15"/>
<rect x="784" y="960" width="4" height="4" fill="#000" fill-opacity="0.2"/><rect x="788" y="960" width="3" height="4" fill="#000"/><rect x="791" y="960" width="4" height="4" fill="#000" fill-opacity="0.3"/><rect x="784" y="964" width="4" height="4" fill="#000" fill-opacity="0.92"/><rect x="788" y="964" width="3" height="4" fill="#fff" fill-opacity="0.64"/><rect x="788" y="964" width="3" height="4" fill="#000" fill-opacity="0.42"/><rect x="791" y="964" width="4" height="4" fill="#000" fill-opacity="0.92"/><rect x="781" y="968" width="3" height="4" fill="#000" fill-opacity="0.45"/><rect x="784" y="968" width="4" height="4" fill="#000"/><rect x="788" y="968" width="3" height="4" fill="#fff" fill-opacity="0.64"/><rect x="788" y="968" width="3" height="4" fill="#000" fill-opacity="0.08"/><rect x="791" y="968" width="4" height="4" fill="#000"/><rect x="795" y="968" width="3" height="4" fill="#000" fill-opacity="0.45"/><rect x="781" y="972" width="3" height="4" fill="#000"/><rect x="784" y="972" width="4" height="4" fill="#fff" fill-opacity="0.64"/><rect x="788" y="972" width="3" height="4" fill="#fff" fill-opacity="0.64"/><rect x="788" y="972" width="3" height="4" fill="#000" fill-opacity="0.05"/><rect x="791" y="972" width="4" height="4" fill="#fff" fill-opacity="0.64"/><rect x="795" y="972" width="3" height="4" fill="#000"/><rect x="778" y="976" width="3" height="4" fill="#000" fill-opacity="0.35"/><rect x="781" y="976" width="3" height="4" fill="#000"/><rect x="784" y="976" width="4" height="4" fill="#000"/><rect x="788" y="976" width="3" height="4" fill="#000"/><rect x="791" y="976" width="4" height="4" fill="#000"/><rect x="795" y="976" width="3" height="4" fill="#000"/><rect x="798" y="976" width="4" height="4" fill="#000" fill-opacity="0.15"/>
<rect x="826" y="956" width="3" height="4" fill="#000" fill-opacity="0.2"/><rect x="829" y="956" width="4" height="4" fill="#000"/><rect x="833" y="956" width="3" height="4" fill="#000" fill-opacity="0.3"/><rect x="826" y="960" width="3" height="4" fill="#000" fill-opacity="0.92"/><rect x="829" y="960" width="4" height="4" fill="#fff" fill-opacity="0.64"/><rect x="829" y="960" width="4" height="4" fill="#000" fill-opacity="0.42"/><rect x="833" y="960" width="3" height="4" fill="#000" fill-opacity="0.92"/><rect x="822" y="964" width="4" height="4" fill="#000" fill-opacity="0.45"/><rect x="826" y="964" width="3" height="4" fill="#000"/><rect x="829" y="964" width="4" height="4" fill="#fff" fill-opacity="0.64"/><rect x="829" y="964" width="4" height="4" fill="#000" fill-opacity="0.08"/><rect x="833" y="964" width="3" height="4" fill="#000"/><rect x="836" y="964" width="4" height="4" fill="#000" fill-opacity="0.45"/><rect x="822" y="968" width="4" height="4" fill="#000"/><rect x="826" y="968" width="3" height="4" fill="#fff" fill-opacity="0.64"/><rect x="829" y="968" width="4" height="4" fill="#fff" fill-opacity="0.64"/><rect x="829" y="968" width="4" height="4" fill="#000" fill-opacity="0.05"/><rect x="833" y="968" width="3" height="4" fill="#fff" fill-opacity="0.64"/><rect x="836" y="968" width="4" height="4" fill="#000"/><rect x="819" y="972" width="3" height="4" fill="#000" fill-opacity="0.35"/><rect x="822" y="972" width="4" height="4" fill="#000"/><rect x="826" y="972" width="3" height="4" fill="#000"/><rect x="829" y="972" width="4" height="4" fill="#000"/><rect x="833" y="972" width="3" height="4" fill="#000"/><rect x="836" y="972" width="4" height="4" fill="#000"/><rect x="840" y="972" width="3" height="4" fill="#000" fill-opacity="0.15"/>
<rect x="867" y="960" width="4" height="4" fill="#000" fill-opacity="0.2"/><rect x="871" y="960" width="3" height="4" fill="#000"/><rect x="874" y="960" width="4" height="4" fill="#000" fill-opacity="0.3"/><rect x="867" y="964" width="4" height="4" fill="#000" fill-opacity="0.92"/><rect x="871" y="964" width="3" height="4" fill="#fff" fill-opacity="0.64"/><rect x="871" y="964" width="3" height="4" fill="#000" fill-opacity="0.42"/><rect x="874" y="964" width="4" height="4" fill="#000" fill-opacity="0.92"/><rect x="864" y="968" width="3" height="4" fill="#000" fill-opacity="0.45"/><rect x="867" y="968" width="4" height="4" fill="#000"/><rect x="871" y="968" width="3" height="4" fill="#fff" fill-opacity="0.64"/><rect x="871" y="968" width="3" height="4" fill="#000" fill-opacity="0.08"/><rect x="874" y="968" width="4" height="4" fill="#000"/><rect x="878" y="968" width="3" height="4" fill="#000" fill-opacity="0.45"/><rect x="864" y="972" width="3" height="4" fill="#000"/><rect x="867" y="972" width="4" height="4" fill="#fff" fill-opacity="0.64"/><rect x="871" y="972" width="3" height="4" fill="#fff" fill-opacity="0.64"/><rect x="871" y="972" width="3" height="4" fill="#000" fill-opacity="0.05"/><rect x="874" y="972" width="4" height="4" fill="#fff" fill-opacity="0.64"/><rect x="878" y="972" width="3" height="4" fill="#000"/><rect x="861" y="976" width="3" height="4" fill="#000" fill-opacity="0.35"/><rect x="864" y="976" width="3" height="4" fill="#000"/><rect x="867" y="976" width="4" height="4" fill="#000"/><rect x="871" y="976" width="3" height="4" fill="#000"/><rect x="874" y="976" width="4" height="4" fill="#000"/><rect x="878" y="976" width="3" height="4" fill="#000"/><rect x="881" y="976" width="4" height="4" fill="#000" fill-opacity="0.15"/>
<rect x="912" y="964" width="4" height="4" fill="#000" fill-opacity="0.2"/><rect x="916" y="964" width="3" height="4" fill="#000"/><rect x="919" y="964" width="4" height="4" fill="#000" fill-opacity="0.3"/><rect x="912" y="968" width="4" height="4" fill="#000" fill-opacity="0.92"/><rect x="916" y="968" width="3" height="4" fill="#fff" fill-opacity="0.64"/><rect x="916" y="968" width="3" height="4" fill="#000" fill-opacity="0.42"/><rect x="919" y="968" width="4" height="4" fill="#000" fill-opacity="0.92"/><rect x="909" y="972" width="3" height="4" fill="#000" fill-opacity="0.45"/><rect x="912" y="972" width="4" height="4" fill="#000"/><rect x="916" y="972" width="3" height="4" fill="#fff" fill-opacity="0.64"/><rect x="916" y="972" width="3" height="4" fill="#000" fill-opacity="0.08"/><rect x="919" y="972" width="4" height="4" fill="#000"/><rect x="923" y="972" width="3" height="4" fill="#000" fill-opacity="0.45"/><rect x="909" y="976" width="3" height="4" fill="#000"/><rect x="912" y="976" width="4" height="4" fill="#fff" fill-opacity="0.64"/><rect x="916" y="976" width="3" height="4" fill="#fff" fill-opacity="0.64"/><rect x="916" y="976" width="3" height="4" fill="#000" fill-opacity="0.05"/><rect x="919" y="976" width="4" height="4" fill="#fff" fill-opacity="0.64"/><rect x="923" y="976" width="3" height="4" fill="#000"/><rect x="905" y="980" width="4" height="4" fill="#000" fill-opacity="0.35"/><rect x="909" y="980" width="3" height="4" fill="#000"/><rect x="912" y="980" width="4" height="4" fill="#000"/><rect x="916" y="980" width="3" height="4" fill="#000"/><rect x="919" y="980" width="4" height="4" fill="#000"/><rect x="923" y="980" width="3" height="4" fill="#000"/><rect x="926" y="980" width="4" height="4" fill="#000" fill-opacity="0.15"/>
<rect x="954" y="968" width="3" height="4" fill="#000" fill-opacity="0.2"/><rect x="957" y="968" width="4" height="4" fill="#000"/><rect x="961" y="968" width="3" height="4" fill="#000" fill-opacity="0.3"/><rect x="954" y="972" width="3" height="4" fill="#000" fill-opacity="0.92"/><rect x="957" y="972" width="4" height="4" fill="#fff" fill-opacity="0.64"/><rect x="957" y="972" width="4" height="4" fill="#000" fill-opacity="0.42"/><rect x="961" y="972" width="3" height="4" fill="#000" fill-opacity="0.92"/><rect x="950" y="976" width="4" height="4" fill="#000" fill-opacity="0.45"/><rect x="954" y="976" width="3" height="4" fill="#000"/><rect x="957" y="976" width="4" height="4" fill="#fff" fill-opacity="0.64"/><rect x="957" y="976" width="4" height="4" fill="#000" fill-opacity="0.08"/><rect x="961" y="976" width="3" height="4" fill="#000"/><rect x="964" y="976" width="4" height="4" fill="#000" fill-opacity="0.45"/><rect x="950" y="980" width="4" height="4" fill="#000"/><rect x="954" y="980" width="3" height="4" fill="#fff" fill-opacity="0.64"/><rect x="957" y="980" width="4" height="4" fill="#fff" fill-opacity="0.64"/><rect x="957" y="980" width="4" height="4" fill="#000" fill-opacity="0.05"/><rect x="961" y="980" width="3" height="4" fill="#fff" fill-opacity="0.64"/><rect x="964" y="980" width="4" height="4" fill="#000"/><rect x="947" y="984" width="3" height="4" fill="#000" fill-opacity="0.35"/><rect x="950" y="984" width="4" height="4" fill="#000"/><rect x="954" y="984" width="3" height="4" fill="#000"/><rect x="957" y="984" width="4" height="4" fill="#000"/><rect x="961" y="984" width="3" height="4" fill="#000"/><rect x="964" y="984" width="4" height="4" fill="#000"/><rect x="968" y="984" width="3" height="4" fill="#000" fill-opacity="0.15"/>
<rect x="995" y="968" width="4" height="4" fill="#000" fill-opacity="0.2"/><rect x="999" y="968" width="3" height="4" fill="#000"/><rect x="1002" y="968" width="4" height="4" fill="#000" fill-opacity="0.3"/><rect x="995" y="972" width="4" height="4" fill="#000" fill-opacity="0.92"/><rect x="999" y="972" width="3" height="4" fill="#fff" fill-opacity="0.64"/><rect x="999" y="972" width="3" height="4" fill="#000" fill-opacity="0.42"/><rect x="1002" y="972" width="4" height="4" fill="#000" fill-opacity="0.92"/><rect x="992" y="976" width="3" height="4" fill="#000" fill-opacity="0.45"/><rect x="995" y="976" width="4" height="4" fill="#000"/><rect x="999" y="976" width="3" height="4" fill="#fff" fill-opacity="0.64"/><rect x="999" y="976" width="3" height="4" fill="#000" fill-opacity="0.08"/><rect x="1002" y="976" width="4" height="4" fill="#000"/><rect x="1006" y="976" width="3" height="4" fill="#000" fill-opacity="0.45"/><rect x="992" y="980" width="3" height="4" fill="#000"/><rect x="995" y="980" width="4" height="4" fill="#fff" fill-opacity="0.64"/><rect x="999" y="980" width="3" height="4" fill="#fff" fill-opacity="0.64"/><rect x="999" y="980" width="3" height="4" fill="#000" fill-opacity="0.05"/><rect x="1002" y="980" width="4" height="4" fill="#fff" fill-opacity="0.64"/><rect x="1006" y="980" width="3" height="4" fill="#000"/><rect x="988" y="984" width="4" height="4" fill="#000" fill-opacity="0.35"/><rect x="992" y="984" width="3" height="4" fill="#000"/><rect x="995" y="984" width="4" height="4" fill="#000"/><rect x="999" y="984" width="3" height="4" fill="#000"/><rect x="1002" y="984" width="4" height="4" fill="#000"/><rect x="1006" y="984" width="3" height="4" fill="#000"/><rect x="1009" y="984" width="4" height="4" fill="#000" fill-opacity="0.15"/>
<rect x="1040" y="968" width="4" height="4" fill="#000" fill-opacity="0.2"/><rect x="1044" y="968" width="3" height="4" fill="#000"/><rect x="1047" y="968" width="4" height="4" fill="#000" fill-opacity="0.3"/><rect x="1040" y="972" width="4" height="4" fill="#000" fill-opacity="0.92"/><rect x="1044" y="972" width="3" height="4" fill="#fff" fill-opacity="0.64"/><rect x="1044" y="972" width="3" height="4" fill="#000" fill-opacity="0.42"/><rect x="1047" y="972" width="4" height="4" fill="#000" fill-opacity="0.92"/><rect x="1037" y="976" width="3" height="4" fill="#000" fill-opacity="0.45"/><rect x="1040" y="976" width="4" height="4" fill="#000"/><rect x="1044" y="976" width="3" height="4" fill="#fff" fill-opacity="0.64"/><rect x="1044" y="976" width="3" height="4" fill="#000" fill-opacity="0.08"/><rect x="1047" y="976" width="4" height="4" fill="#000"/><rect x="1051" y="976" width="3" height="4" fill="#000" fill-opacity="0.45"/><rect x="1037" y="980" width="3" height="4" fill="#000"/><rect x="1040" y="980" width="4" height="4" fill="#fff" fill-opacity="0.64"/><rect x="1044" y="980" width="3" height="4" fill="#fff" fill-opacity="0.64"/><rect x="1044" y="980" width="3" height="4" fill="#000" fill-opacity="0.05"/><rect x="1047" y="980" width="4" height="4" fill="#fff" fill-opacity="0.64"/><rect x="1051" y="980" width="3" height="4" fill="#000"/><rect x="1033" y="984" width="4" height="4" fill="#000" fill-opacity="0.35"/><rect x="1037" y="984" width="3" height="4" fill="#000"/><rect x="1040" y="984" width="4" height="4" fill="#000"/><rect x="1044" y="984" width="3" height="4" fill="#000"/><rect x="1047" y="984" width="4" height="4" fill="#000"/><rect x="1051" y="984" width="3" height="4" fill="#000"/><rect x="1054" y="984" width="4" height="4" fill="#000" fill-opacity="0.15"/>
<rect x="1082" y="972" width="3" height="4" fill="#000" fill-opacity="0.2"/><rect x="1085" y="972" width="4" height="4" fill="#000"/><rect x="1089" y="972" width="3" height="4" fill="#000" fill-opacity="0.3"/><rect x="1082" y="976" width="3" height="4" fill="#000" fill-opacity="0.92"/><rect x="1085" y="976" width="4" height="4" fill="#fff" fill-opacity="0.64"/><rect x="1085" y="976" width="4" height="4" fill="#000" fill-opacity="0.42"/><rect x="1089" y="976" width="3" height="4" fill="#000" fill-opacity="0.92"/><rect x="1078" y="980" width="4" height="4" fill="#000" fill-opacity="0.45"/><rect x="1082" y="980" width="3" height="4" fill="#000"/><rect x="1085" y="980" width="4" height="4" fill="#fff" fill-opacity="0.64"/><rect x="1085" y="980" width="4" height="4" fill="#000" fill-opacity="0.08"/><rect x="1089" y="980" width="3" height="4" fill="#000"/><rect x="1092" y="980" width="4" height="4" fill="#000" fill-opacity="0.45"/><rect x="1078" y="984" width="4" height="4" fill="#000"/><rect x="1082" y="984" width="3" height="4" fill="#fff" fill-opacity="0.64"/><rect x="1085" y="984" width="4" height="4" fill="#fff" fill-opacity="0.64"/><rect x="1085" y="984" width="4" height="4" fill="#000" fill-opacity="0.05"/><rect x="1089" y="984" width="3" height="4" fill="#fff" fill-opacity="0.64"/><rect x="1092" y="984" width="4" height="4" fill="#000"/><rect x="1075" y="988" width="3" height="4" fill="#000" fill-opacity="0.35"/><rect x="1078" y="988" width="4" height="4" fill="#000"/><rect x="1082" y="988" width="3" height="4" fill="#000"/><rect x="1085" y="988" width="4" height="4" fill="#000"/><rect x="1089" y="988" width="3" height="4" fill="#000"/><rect x="1092" y="988" width="4" height="4" fill="#000"/><rect x="1096" y="988" width="3" height="4" fill="#000" fill-opacity="0.15"/>
<rect x="1123" y="972" width="4" height="4" fill="#000" fill-opacity="0.2"/><rect x="1127" y="972" width="3" height="4" fill="#000"/><rect x="1130" y="972" width="4" height="4" fill="#000" fill-opacity="0.3"/><rect x="1123" y="976" width="4" height="4" fill="#000" fill-opacity="0.92"/><rect x="1127" y="976" width="3" height="4" fill="#fff" fill-opacity="0.64"/><rect x="1127" y="976" width="3" height="4" fill="#000" fill-opacity="0.42"/><rect x="1130" y="976" width="4" height="4" fill="#000" fill-opacity="0.92"/><rect x="1120" y="980" width="3" height="4" fill="#000" fill-opacity="0.45"/><rect x="1123" y="980" width="4" height="4" fill="#000"/><rect x="1127" y="980" width="3" height="4" fill="#fff" fill-opacity="0.64"/><rect x="1127" y="980" width="3" height="4" fill="#000" fill-opacity="0.08"/><rect x="1130" y="980" width="4" height="4" fill="#000"/><rect x="1134" y="980" width="3" height="4" fill="#000" fill-opacity="0.45"/><rect x="1120" y="984" width="3" height="4" fill="#000"/><rect x="1123" y="984" width="4" height="4" fill="#fff" fill-opacity="0.64"/><rect x="1127" y="984" width="3" height="4" fill="#fff" fill-opacity="0.64"/><rect x="1127" y="984" width="3" height="4" fill="#000" fill-opacity="0.05"/><rect x="1130" y="984" width="4" height="4" fill="#fff" fill-opacity="0.64"/><rect x="1134" y="984" width="3" height="4" fill="#000"/><rect x="1116" y="988" width="4" height="4" fill="#000" fill-opacity="0.35"/><rect x="1120" y="988" width="3" height="4" fill="#000"/><rect x="1123" y="988" width="4" height="4" fill="#000"/><rect x="1127" y="988" width="3" height="4" fill="#000"/><rect x="1130" y="988" width="4" height="4" fill="#000"/><rect x="1134" y="988" width="3" height="4" fill="#000"/><rect x="1137" y="988" width="4" height="4" fill="#000" fill-opacity="0.15"/>
<rect x="1168" y="972" width="4" height="4" fill="#000" fill-opacity="0.2"/><rect x="1172" y="972" width="3" height="4" fill="#000"/><rect x="1175" y="972" width="4" height="4" fill="#000" fill-opacity="0.3"/><rect x="1168" y="976" width="4" height="4" fill="#000" fill-opacity="0.92"/><rect x="1172" y="976" width="3" height="4" fill="#fff" fill-opacity="0.64"/><rect x="1172" y="976" width="3" height="4" fill="#000" fill-opacity="0.42"/><rect x="1175" y="976" width="4" height="4" fill="#000" fill-opacity="0.92"/><rect x="1165" y="980" width="3" height="4" fill="#000" fill-opacity="0.45"/><rect x="1168" y="980" width="4" height="4" fill="#000"/><rect x="1172" y="980" width="3" height="4" fill="#fff" fill-opacity="0.64"/><rect x="1172" y="980" width="3" height="4" fill="#000" fill-opacity="0.08"/><rect x="1175" y="980" width="4" height="4" fill="#000"/><rect x="1179" y="980" width="3" height="4" fill="#000" fill-opacity="0.45"/><rect x="1165" y="984" width="3" height="4" fill="#000"/><rect x="1168" y="984" width="4" height="4" fill="#fff" fill-opacity="0.64"/><rect x="1172" y="984" width="3" height="4" fill="#fff" fill-opacity="0.64"/><rect x="1172" y="984" width="3" height="4" fill="#000" fill-opacity="0.05"/><rect x="1175" y="984" width="4" height="4" fill="#fff" fill-opacity="0.64"/><rect x="1179" y="984" width="3" height="4" fill="#000"/><rect x="1161" y="988" width="4" height="4" fill="#000" fill-opacity="0.35"/><rect x="1165" y="988" width="3" height="4" fill="#000"/><rect x="1168" y="988" width="4" height="4" fill="#000"/><rect x="1172" y="988" width="3" height="4" fill="#000"/><rect x="1175" y="988" width="4" height="4" fill="#000"/><rect x="1179" y="988" width="3" height="4" fill="#000"/><rect x="1182" y="988" width="3" height="4" fill="#000" fill-opacity="0.15"/>
<rect x="1210" y="976" width="3" height="4" fill="#000" fill-opacity="0.2"/><rect x="1213" y="976" width="4" height="4" fill="#000"/><rect x="1217" y="976" width="3" height="4" fill="#000" fill-opacity="0.3"/><rect x="1210" y="980" width="3" height="4" fill="#000" fill-opacity="0.92"/><rect x="1213" y="980" width="4" height="4" fill="#fff" fill-opacity="0.64"/><rect x="1213" y="980" width="4" height="4" fill="#000" fill-opacity="0.42"/><rect x="1217" y="980" width="3" height="4" fill="#000" fill-opacity="0.92"/><rect x="1206" y="984" width="4" height="4" fill="#000" fill-opacity="0.45"/><rect x="1210" y="984" width="3" height="4" fill="#000"/><rect x="1213" y="984" width="4" height="4" fill="#fff" fill-opacity="0.64"/><rect x="1213" y="984" width="4" height="4" fill="#000" fill-opacity="0.08"/><rect x="1217" y="984" width="3" height="4" fill="#000"/><rect x="1220" y="984" width="3" height="4" fill="#000" fill-opacity="0.45"/><rect x="1206" y="988" width="4" height="4" fill="#000"/><rect x="1210" y="988" width="3" height="4" fill="#fff" fill-opacity="0.64"/><rect x="1213" y="988" width="4" height="4" fill="#fff" fill-opacity="0.64"/><rect x="1213" y="988" width="4" height="4" fill="#000" fill-opacity="0.05"/><rect x="1217" y="988" width="3" height="4" fill="#fff" fill-opacity="0.64"/><rect x="1220" y="988" width="3" height="4" fill="#000"/><rect x="1203" y="992" width="3" height="4" fill="#000" fill-opacity="0.35"/><rect x="1206" y="992" width="4" height="4" fill="#000"/><rect x="1210" y="992" width="3" height="4" fill="#000"/><rect x="1213" y="992" width="4" height="4" fill="#000"/><rect x="1217" y="992" width="3" height="4" fill="#000"/><rect x="1220" y="992" width="3" height="4" fill="#000"/><rect x="1223" y="992" width="4" height="4" fill="#000" fill-opacity="0.15"/>
<rect x="1251" y="976" width="4" height="4" fill="#000" fill-opacity="0.2"/><rect x="1255" y="976" width="3" height="4" fill="#000"/><rect x="1258" y="976" width="4" height="4" fill="#000" fill-opacity="0.3"/><rect x="1251" y="980" width="4" height="4" fill="#000" fill-opacity="0.92"/><rect x="1255" y="980" width="3" height="4" fill="#fff" fill-opacity="0.64"/><rect x="1255" y="980" width="3" height="4" fill="#000" fill-opacity="0.42"/><rect x="1258" y="980" width="4" height="4" fill="#000" fill-opacity="0.92"/><rect x="1248" y="984" width="3" height="4" fill="#000" fill-opacity="0.45"/><rect x="1251" y="984" width="4" height="4" fill="#000"/><rect x="1255" y="984" width="3" height="4" fill="#fff" fill-opacity="0.64"/><rect x="1255" y="984" width="3" height="4" fill="#000" fill-opacity="0.08"/><rect x="1258" y="984" width="4" height="4" fill="#000"/><rect x="1262" y="984" width="3" height="4" fill="#000" fill-opacity="0.45"/><rect x="1248" y="988" width="3" height="4" fill="#000"/><rect x="1251" y="988" width="4" height="4" fill="#fff" fill-opacity="0.64"/><rect x="1255" y="988" width="3" height="4" fill="#fff" fill-opacity="0.64"/><rect x="1255" y="988" width="3" height="4" fill="#000" fill-opacity="0.05"/><rect x="1258" y="988" width="4" height="4" fill="#fff" fill-opacity="0.64"/><rect x="1262" y="988" width="3" height="4" fill="#000"/><rect x="1244" y="992" width="4" height="4" fill="#000" fill-opacity="0.35"/><rect x="1248" y="992" width="3" height="4" fill="#000"/><rect x="1251" y="992" width="4" height="4" fill="#000"/><rect x="1255" y="992" width="3" height="4" fill="#000"/><rect x="1258" y="992" width="4" height="4" fill="#000"/><rect x="1262" y="992" width="3" height="4" fill="#000"/><rect x="1265" y="992" width="3" height="4" fill="#000" fill-opacity="0.15"/>
<rect x="1296" y="980" width="4" height="4" fill="#000" fill-opacity="0.2"/><rect x="1300" y="980" width="3" height="4" fill="#000"/><rect x="1303" y="980" width="3" height="4" fill="#000" fill-opacity="0.3"/><rect x="1296" y="984" width="4" height="4" fill="#000" fill-opacity="0.92"/><rect x="1300" y="984" width="3" height="4" fill="#fff" fill-opacity="0.64"/><rect x="1300" y="984" width="3" height="4" fill="#000" fill-opacity="0.42"/><rect x="1303" y="984" width="3" height="4" fill="#000" fill-opacity="0.92"/><rect x="1293" y="988" width="3" height="4" fill="#000" fill-opacity="0.45"/><rect x="1296" y="988" width="4" height="4" fill="#000"/><rect x="1300" y="988" width="3" height="4" fill="#fff" fill-opacity="0.64"/><rect x="1300" y="988" width="3" height="4" fill="#000" fill-opacity="0.08"/><rect x="1303" y="988" width="3" height="4" fill="#000"/><rect x="1306" y="988" width="4" height="4" fill="#000" fill-opacity="0.45"/><rect x="1293" y="992" width="3" height="4" fill="#000"/><rect x="1296" y="992" width="4" height="4" fill="#fff" fill-opacity="0.64"/><rect x="1300" y="992" width="3" height="4" fill="#fff" fill-opacity="0.64"/><rect x="1300" y="992" width="3" height="4" fill="#000" fill-opacity="0.05"/><rect x="1303" y="992" width="3" height="4" fill="#fff" fill-opacity="0.64"/><rect x="1306" y="992" width="4" height="4" fill="#000"/><rect x="1289" y="996" width="4" height="4" fill="#000" fill-opacity="0.35"/><rect x="1293" y="996" width="3" height="4" fill="#000"/><rect x="1296" y="996" width="4" height="4" fill="#000"/><rect x="1300" y="996" width="3" height="4" fill="#000"/><rect x="1303" y="996" width="3" height="4" fill="#000"/><rect x="1306" y="996" width="4" height="4" fill="#000"/><rect x="1310" y="996" width="3" height="4" fill="#000" fill-opacity="0.15"/>
<rect x="1338" y="980" width="3" height="4" fill="#000" fill-opacity="0.2"/><rect x="1341" y="980" width="3" height="4" fill="#000"/><rect x="1344" y="980" width="4" height="4" fill="#000" fill-opacity="0.3"/><rect x="1338" y="984" width="3" height="4" fill="#000" fill-opacity="0.92"/><rect x="1341" y="984" width="3" height="4" fill="#fff" fill-opacity="0.64"/><rect x="1341" y="984" width="3" height="4" fill="#000" fill-opacity="0.42"/><rect x="1344" y="984" width="4" height="4" fill="#000" fill-opacity="0.92"/><rect x="1334" y="988" width="4" height="4" fill="#000" fill-opacity="0.45"/><rect x="1338" y="988" width="3" height="4" fill="#000"/><rect x="1341" y="988" width="3" height="4" fill="#fff" fill-opacity="0.64"/><rect x="1341" y="988" width="3" height="4" fill="#000" fill-opacity="0.08"/><rect x="1344" y="988" width="4" height="4" fill="#000"/><rect x="1348" y="988" width="3" height="4" fill="#000" fill-opacity="0.45"/><rect x="1334" y="992" width="4" height="4" fill="#000"/><rect x="1338" y="992" width="3" height="4" fill="#fff" fill-opacity="0.64"/><rect x="1341" y="992" width="3" height="4" fill="#fff" fill-opacity="0.64"/><rect x="1341" y="992" width="3" height="4" fill="#000" fill-opacity="0.05"/><rect x="1344" y="992" width="4" height="4" fill="#fff" fill-opacity="0.64"/><rect x="1348" y="992" width="3" height="4" fill="#000"/><rect x="1331" y="996" width="3" height="4" fill="#000" fill-opacity="0.35"/><rect x="1334" y="996" width="4" height="4" fill="#000"/><rect x="1338" y="996" width="3" height="4" fill="#000"/><rect x="1341" y="996" width="3" height="4" fill="#000"/><rect x="1344" y="996" width="4" height="4" fill="#000"/><rect x="1348" y="996" width="3" height="4" fill="#000"/><rect x="1351" y="996" width="4" height="4" fill="#000" fill-opacity="0.15"/>
<rect x="1379" y="980" width="3" height="4" fill="#000" fill-opacity="0.2"/><rect x="1382" y="980" width="4" height="4" fill="#000"/><rect x="1386" y="980" width="3" height="4" fill="#000" fill-opacity="0.3"/><rect x="1379" y="984" width="3" height="4" fill="#000" fill-opacity="0.92"/><rect x="1382" y="984" width="4" height="4" fill="#fff" fill-opacity="0.64"/><rect x="1382" y="984" width="4" height="4" fill="#000" fill-opacity="0.42"/><rect x="1386" y="984" width="3" height="4" fill="#000" fill-opacity="0.92"/><rect x="1376" y="988" width="3" height="4" fill="#000" fill-opacity="0.45"/><rect x="1379" y="988" width="3" height="4" fill="#000"/><rect x="1382" y="988" width="4" height="4" fill="#fff" fill-opacity="0.64"/><rect x="1382" y="988" width="4" height="4" fill="#000" fill-opacity="0.08"/><rect x="1386" y="988" width="3" height="4" fill="#000"/><rect x="1389" y="988" width="4" height="4" fill="#000" fill-opacity="0.45"/><rect x="1376" y="992" width="3" height="4" fill="#000"/><rect x="1379" y="992" width="3" height="4" fill="#fff" fill-opacity="0.64"/><rect x="1382" y="992" width="4" height="4" fill="#fff" fill-opacity="0.64"/><rect x="1382" y="992" width="4" height="4" fill="#000" fill-opacity="0.05"/><rect x="1386" y="992" width="3" height="4" fill="#fff" fill-opacity="0.64"/><rect x="1389" y="992" width="4" height="4" fill="#000"/><rect x="1372" y="996" width="4" height="4" fill="#000" fill-opacity="0.35"/><rect x="1376" y="996" width="3" height="4" fill="#000"/><rect x="1379" y="996" width="3" height="4" fill="#000"/><rect x="1382" y="996" width="4" height="4" fill="#000"/><rect x="1386" y="996" width="3" height="4" fill="#000"/><rect x="1389" y="996" width="4" height="4" fill="#000"/><rect x="1393" y="996" width="3" height="4" fill="#000" fill-opacity="0.15"/>
<rect x="1424" y="980" width="3" height="4" fill="#000" fill-opacity="0.2"/><rect x="1427" y="980" width="4" height="4" fill="#000"/><rect x="1431" y="980" width="3" height="4" fill="#000" fill-opacity="0.3"/><rect x="1424" y="984" width="3" height="4" fill="#000" fill-opacity="0.92"/><rect x="1427" y="984" width="4" height="4" fill="#fff" fill-opacity="0.64"/><rect x="1427" y="984" width="4" height="4" fill="#000" fill-opacity="0.42"/><rect x="1431" y="984" width="3" height="4" fill="#000" fill-opacity="0.92"/><rect x="1421" y="988" width="3" height="4" fill="#000" fill-opacity="0.45"/><rect x="1424" y="988" width="3" height="4" fill="#000"/><rect x="1427" y="988" width="4" height="4" fill="#fff" fill-opacity="0.64"/><rect x="1427" y="988" width="4" height="4" fill="#000" fill-opacity="0.08"/><rect x="1431" y="988" width="3" height="4" fill="#000"/><rect x="1434" y="988" width="4" height="4" fill="#000" fill-opacity="0.45"/><rect x="1421" y="992" width="3" height="4" fill="#000"/><rect x="1424" y="992" width="3" height="4" fill="#fff" fill-opacity="0.64"/><rect x="1427" y="992" width="4" height="4" fill="#fff" fill-opacity="0.64"/><rect x="1427" y="992" width="4" height="4" fill="#000" fill-opacity="0.05"/><rect x="1431" y="992" width="3" height="4" fill="#fff" fill-opacity="0.64"/><rect x="1434" y="992" width="4" height="4" fill="#000"/><rect x="1417" y="996" width="4" height="4" fill="#000" fill-opacity="0.35"/><rect x="1421" y="996" width="3" height="4" fill="#000"/><rect x="1424" y="996" width="3" height="4" fill="#000"/><rect x="1427" y="996" width="4" height="4" fill="#000"/><rect x="1431" y="996" width="3" height="4" fill="#000"/><rect x="1434" y="996" width="4" height="4" fill="#000"/><rect x="1438" y="996" width="3" height="4" fill="#000" fill-opacity="0.15"/>
<rect x="1465" y="980" width="4" height="4" fill="#000" fill-opacity="0.2"/><rect x="1469" y="980" width="3" height="4" fill="#000"/><rect x="1472" y="980" width="4" height="4" fill="#000" fill-opacity="0.3"/><rect x="1465" y="984" width="4" height="4" fill="#000" fill-opacity="0.92"/><rect x="1469" y="984" width="3" height="4" fill="#fff" fill-opacity="0.64"/><rect x="1469" y="984" width="3" height="4" fill="#000" fill-opacity="0.42"/><rect x="1472" y="984" width="4" height="4" fill="#000" fill-opacity="0.92"/><rect x="1462" y="988" width="3" height="4" fill="#000" fill-opacity="0.45"/><rect x="1465" y="988" width="4" height="4" fill="#000"/><rect x="1469" y="988" width="3" height="4" fill="#fff" fill-opacity="0.64"/><rect x="1469" y="988" width="3" height="4" fill="#000" fill-opacity="0.08"/><rect x="1472" y="988" width="4" height="4" fill="#000"/><rect x="1476" y="988" width="3" height="4" fill="#000" fill-opacity="0.45"/><rect x="1462" y="992" width="3" height="4" fill="#000"/><rect x="1465" y="992" width="4" height="4" fill="#fff" fill-opacity="0.64"/><rect x="1469" y="992" width="3" height="4" fill="#fff" fill-opacity="0.64"/><rect x="1469" y="992" width="3" height="4" fill="#000" fill-opacity="0.05"/><rect x="1472" y="992" width="4" height="4" fill="#fff" fill-opacity="0.64"/><rect x="1476" y="992" width="3" height="4" fill="#000"/><rect x="1459" y="996" width="3" height="4" fill="#000" fill-opacity="0.35"/><rect x="1462" y="996" width="3" height="4" fill="#000"/><rect x="1465" y="996" width="4" height="4" fill="#000"/><rect x="1469" y="996" width="3" height="4" fill="#000"/><rect x="1472" y="996" width="4" height="4" fill="#000"/><rect x="1476" y="996" width="3" height="4" fill="#000"/><rect x="1479" y="996" width="4" height="4" fill="#000" fill-opacity="0.15"/>
<path d="M191.6,133.5 L202.8,147.5 L191.6,161.5 L180.4,147.5 Z" fill="#000"/>
<path d="M447.4,765.8 L458.6,779.8 L447.4,793.8 L436.2,779.8 Z" fill="#000"/>
<path d="M703.3,905.8 L714.5,919.8 L703.3,933.8 L692.1,919.8 Z" fill="#000"/>
<path d="M906.8,1016.2 L918.0,1030.2 L906.8,1044.2 L895.6,1030.2 Z" fill="#000"/>
<path d="M1106.6,1081.8 L1117.8,1095.8 L1106.6,1109.8 L1095.4,1095.8 Z" fill="#000"/>
<path d="M1348.0,1102.0 L1359.2,1116.0 L1348.0,1130.0 L1336.8,1116.0 Z" fill="#000"/>
</g>
<g stroke="#000" fill="none" stroke-linecap="butt">
<line x1="171.5" y1="52.2" x2="1472.4" y2="52.2" stroke-width="8.0"/>
<line x1="171.5" y1="1114.6" x2="1472.4" y2="1114.6" stroke-width="6.2"/>
<line x1="191.8" y1="48.2" x2="191.8" y2="1139.8" stroke-width="5.8"/>
<line x1="1469.75" y1="48.2" x2="1469.75" y2="1139.8" stroke-width="5.3"/>
<line x1="179.5" y1="1056.5" x2="191.8" y2="1056.5" stroke-width="5.4"/>
<line x1="171.5" y1="997.6" x2="191.8" y2="997.6" stroke-width="6.8"/>
<line x1="179.5" y1="938.5" x2="191.8" y2="938.5" stroke-width="5.4"/>
<line x1="171.5" y1="879.6" x2="191.8" y2="879.6" stroke-width="6.8"/>
<line x1="179.5" y1="820.5" x2="191.8" y2="820.5" stroke-width="5.4"/>
<line x1="171.5" y1="761.6" x2="191.8" y2="761.6" stroke-width="6.8"/>
<line x1="179.5" y1="702.5" x2="191.8" y2="702.5" stroke-width="5.4"/>
<line x1="171.5" y1="643.6" x2="191.8" y2="643.6" stroke-width="6.8"/>
<line x1="179.5" y1="584.5" x2="191.8" y2="584.5" stroke-width="5.4"/>
<line x1="171.5" y1="525.6" x2="191.8" y2="525.6" stroke-width="6.8"/>
<line x1="179.5" y1="466.5" x2="191.8" y2="466.5" stroke-width="5.4"/>
<line x1="171.5" y1="407.6" x2="191.8" y2="407.6" stroke-width="6.8"/>
<line x1="179.5" y1="348.5" x2="191.8" y2="348.5" stroke-width="5.4"/>
<line x1="171.5" y1="289.6" x2="191.8" y2="289.6" stroke-width="6.8"/>
<line x1="179.5" y1="230.5" x2="191.8" y2="230.5" stroke-width="5.4"/>
<line x1="171.5" y1="171.6" x2="191.8" y2="171.6" stroke-width="6.8"/>
<line x1="179.5" y1="112.5" x2="191.8" y2="112.5" stroke-width="5.4"/>
<line x1="319.7" y1="1114.5" x2="319.7" y2="1128.0" stroke-width="5.0"/>
<line x1="447.6" y1="1114.5" x2="447.6" y2="1139.8" stroke-width="5.8"/>
<line x1="575.4" y1="1114.5" x2="575.4" y2="1128.0" stroke-width="5.0"/>
<line x1="703.3" y1="1114.5" x2="703.3" y2="1139.8" stroke-width="5.8"/>
<line x1="831.2" y1="1114.5" x2="831.2" y2="1128.0" stroke-width="5.0"/>
<line x1="959.0" y1="1114.5" x2="959.0" y2="1139.8" stroke-width="5.8"/>
<line x1="1086.9" y1="1114.5" x2="1086.9" y2="1128.0" stroke-width="5.0"/>
<line x1="1214.8" y1="1114.5" x2="1214.8" y2="1139.8" stroke-width="5.8"/>
<line x1="1342.7" y1="1114.5" x2="1342.7" y2="1128.0" stroke-width="5.0"/>
</g>
<g transform="translate(162.5,1127.5) scale(0.875,1)"><text x="0" y="0" font-family="'Liberation Sans', Arial, Helvetica, sans-serif" font-size="44.0" text-anchor="end" fill="#000" stroke="#000" stroke-width="1.5">0</text></g>
<g transform="translate(162.5,1009.5) scale(0.875,1)"><text x="0" y="0" font-family="'Liberation Sans', Arial, Helvetica, sans-serif" font-size="44.0" text-anchor="end" fill="#000" stroke="#000" stroke-width="1.5">2</text></g>
<g transform="translate(162.5,891.5) scale(0.875,1)"><text x="0" y="0" font-family="'Liberation Sans', Arial, Helvetica, sans-serif" font-size="44.0" text-anchor="end" fill="#000" stroke="#000" stroke-width="1.5">4</text></g>
<g transform="translate(162.5,773.5) scale(0.875,1)"><text x="0" y="0" font-family="'Liberation Sans', Arial, Helvetica, sans-serif" font-size="44.0" text-anchor="end" fill="#000" stroke="#000" stroke-width="1.5">6</text></g>
<g transform="translate(162.5,655.5) scale(0.875,1)"><text x="0" y="0" font-family="'Liberation Sans', Arial, Helvetica, sans-serif" font-size="44.0" text-anchor="end" fill="#000" stroke="#000" stroke-width="1.5">8</text></g>
<g transform="translate(162.5,537.5) scale(0.875,1)"><text x="0" y="0" font-family="'Liberation Sans', Arial, Helvetica, sans-serif" font-size="44.0" text-anchor="end" fill="#000" stroke="#000" stroke-width="1.5">10</text><rect x="-48.06" y="-3.74" width="9.46" height="5.74" fill="#fff"/><rect x="-33.45" y="-3.74" width="8.80" height="5.74" fill="#fff"/></g>
<g transform="translate(162.5,419.5) scale(0.875,1)"><text x="0" y="0" font-family="'Liberation Sans', Arial, Helvetica, sans-serif" font-size="44.0" text-anchor="end" fill="#000" stroke="#000" stroke-width="1.5">12</text><rect x="-48.06" y="-3.74" width="9.46" height="5.74" fill="#fff"/><rect x="-33.45" y="-3.74" width="8.80" height="5.74" fill="#fff"/></g>
<g transform="translate(162.5,301.5) scale(0.875,1)"><text x="0" y="0" font-family="'Liberation Sans', Arial, Helvetica, sans-serif" font-size="44.0" text-anchor="end" fill="#000" stroke="#000" stroke-width="1.5">14</text><rect x="-48.06" y="-3.74" width="9.46" height="5.74" fill="#fff"/><rect x="-33.45" y="-3.74" width="8.80" height="5.74" fill="#fff"/></g>
<g transform="translate(162.5,183.5) scale(0.875,1)"><text x="0" y="0" font-family="'Liberation Sans', Arial, Helvetica, sans-serif" font-size="44.0" text-anchor="end" fill="#000" stroke="#000" stroke-width="1.5">16</text><rect x="-48.06" y="-3.74" width="9.46" height="5.74" fill="#fff"/><rect x="-33.45" y="-3.74" width="8.80" height="5.74" fill="#fff"/></g>
<g transform="translate(162.5,65.5) scale(0.875,1)"><text x="0" y="0" font-family="'Liberation Sans', Arial, Helvetica, sans-serif" font-size="44.0" text-anchor="end" fill="#000" stroke="#000" stroke-width="1.5">18</text><rect x="-48.06" y="-3.74" width="9.46" height="5.74" fill="#fff"/><rect x="-33.45" y="-3.74" width="8.80" height="5.74" fill="#fff"/></g>
<g transform="translate(192.8,1184.0) scale(0.875,1)"><text x="0" y="0" font-family="'Liberation Sans', Arial, Helvetica, sans-serif" font-size="44.0" text-anchor="middle" fill="#000" stroke="#000" stroke-width="1.5">0</text></g>
<g transform="translate(448.6,1184.0) scale(0.875,1)"><text x="0" y="0" font-family="'Liberation Sans', Arial, Helvetica, sans-serif" font-size="44.0" text-anchor="middle" fill="#000" stroke="#000" stroke-width="1.5">1</text><rect x="-11.36" y="-3.74" width="9.46" height="5.74" fill="#fff"/><rect x="3.25" y="-3.74" width="8.80" height="5.74" fill="#fff"/></g>
<g transform="translate(704.3,1184.0) scale(0.875,1)"><text x="0" y="0" font-family="'Liberation Sans', Arial, Helvetica, sans-serif" font-size="44.0" text-anchor="middle" fill="#000" stroke="#000" stroke-width="1.5">2</text></g>
<g transform="translate(960.0,1184.0) scale(0.875,1)"><text x="0" y="0" font-family="'Liberation Sans', Arial, Helvetica, sans-serif" font-size="44.0" text-anchor="middle" fill="#000" stroke="#000" stroke-width="1.5">3</text></g>
<g transform="translate(1215.8,1184.0) scale(0.875,1)"><text x="0" y="0" font-family="'Liberation Sans', Arial, Helvetica, sans-serif" font-size="44.0" text-anchor="middle" fill="#000" stroke="#000" stroke-width="1.5">4</text></g>
<g transform="translate(1471.5,1184.0) scale(0.875,1)"><text x="0" y="0" font-family="'Liberation Sans', Arial, Helvetica, sans-serif" font-size="44.0" text-anchor="middle" fill="#000" stroke="#000" stroke-width="1.5">5</text></g>
<text transform="translate(831.5,1256.0) scale(0.85,1)" font-family="'Liberation Sans', Arial, Helvetica, sans-serif" font-size="55.5" text-anchor="middle" fill="#000" stroke="#000" stroke-width="1.6">Time [min]</text>
<text transform="translate(86.5,619.5) rotate(-90) scale(0.955,0.85)" font-family="'Liberation Sans', Arial, Helvetica, sans-serif" font-size="55.5" text-anchor="middle" fill="#000" stroke="#000" stroke-width="1.6">% DR</text>
<line x1="876.5" y1="90.8" x2="913.2" y2="90.8" stroke="#000" stroke-width="5.3"/>
<line x1="947.2" y1="90.8" x2="982.3" y2="90.8" stroke="#000" stroke-width="5.3"/>
<path d="M930.6,79.4 L941.0,90.8 L930.6,102.2 L920.2,90.8 Z" fill="#000"/>
<text transform="translate(1007.8,106.1) scale(0.868,0.975)" font-family="'Liberation Serif', 'Times New Roman', serif" font-size="53.5" text-anchor="start" fill="#000" stroke="#000" stroke-width="1.9">PAAM</text>
<text transform="translate(1163.0,106.1) scale(0.857,1.0)" font-family="'Liberation Serif', 'Times New Roman', serif" font-size="53.5" text-anchor="start" fill="#000" stroke="#000" stroke-width="1.4">at 1.35 wppm</text>
<line x1="876.5" y1="156.9" x2="913.2" y2="156.9" stroke="#000" stroke-width="5.3"/>
<line x1="947.2" y1="156.9" x2="982.3" y2="156.9" stroke="#000" stroke-width="5.3"/>
<rect x="926" y="144" width="4" height="4" fill="#000" fill-opacity="0.2"/><rect x="930" y="144" width="3" height="4" fill="#000"/><rect x="933" y="144" width="4" height="4" fill="#000" fill-opacity="0.3"/><rect x="926" y="148" width="4" height="4" fill="#000" fill-opacity="0.92"/><rect x="930" y="148" width="3" height="4" fill="#fff" fill-opacity="0.64"/><rect x="930" y="148" width="3" height="4" fill="#000" fill-opacity="0.42"/><rect x="933" y="148" width="4" height="4" fill="#000" fill-opacity="0.92"/><rect x="923" y="152" width="3" height="4" fill="#000" fill-opacity="0.45"/><rect x="926" y="152" width="4" height="4" fill="#000"/><rect x="930" y="152" width="3" height="4" fill="#fff" fill-opacity="0.64"/><rect x="930" y="152" width="3" height="4" fill="#000" fill-opacity="0.08"/><rect x="933" y="152" width="4" height="4" fill="#000"/><rect x="937" y="152" width="3" height="4" fill="#000" fill-opacity="0.45"/><rect x="923" y="156" width="3" height="4" fill="#000"/><rect x="926" y="156" width="4" height="4" fill="#fff" fill-opacity="0.64"/><rect x="930" y="156" width="3" height="4" fill="#fff" fill-opacity="0.64"/><rect x="930" y="156" width="3" height="4" fill="#000" fill-opacity="0.05"/><rect x="933" y="156" width="4" height="4" fill="#fff" fill-opacity="0.64"/><rect x="937" y="156" width="3" height="4" fill="#000"/><rect x="919" y="160" width="4" height="4" fill="#000" fill-opacity="0.35"/><rect x="923" y="160" width="3" height="4" fill="#000"/><rect x="926" y="160" width="4" height="4" fill="#000"/><rect x="930" y="160" width="3" height="4" fill="#000"/><rect x="933" y="160" width="4" height="4" fill="#000"/><rect x="937" y="160" width="3" height="4" fill="#000"/><rect x="940" y="160" width="3" height="4" fill="#000" fill-opacity="0.15"/>
<text transform="translate(1007.5,174.9) scale(0.86,1.045)" font-family="'Liberation Serif', 'Times New Roman', serif" font-size="53.5" text-anchor="start" fill="#000" stroke="#000" stroke-width="1.4">λ-DNA</text>
<text transform="translate(1164.5,174.9) scale(0.857,1.045)" font-family="'Liberation Serif', 'Times New Roman', serif" font-size="53.5" text-anchor="start" fill="#000" stroke="#000" stroke-width="1.4">at 1.35 wppm</text>
<line x1="876.5" y1="221.3" x2="913.2" y2="221.3" stroke="#000" stroke-width="5.3"/>
<line x1="947.2" y1="221.3" x2="982.3" y2="221.3" stroke="#000" stroke-width="5.3"/>
<ellipse cx="930.6" cy="219.9" rx="8.7" ry="10.05" fill="#fff" stroke="#000" stroke-width="3.7"/><ellipse cx="930.6" cy="219.9" rx="1.6" ry="3.6" fill="#000" fill-opacity="0.8"/>
<text transform="translate(1007.5,239.0) scale(0.858,1.045)" font-family="'Liberation Serif', 'Times New Roman', serif" font-size="53.5" text-anchor="start" fill="#000" stroke="#000" stroke-width="1.4">CT-DNA</text>
<text transform="translate(1194.0,239.0) scale(0.857,1.045)" font-family="'Liberation Serif', 'Times New Roman', serif" font-size="53.5" text-anchor="start" fill="#000" stroke="#000" stroke-width="1.4">at 6.75 wppm</text>
</g></g></g></g></g>
</svg>
</body></html>
